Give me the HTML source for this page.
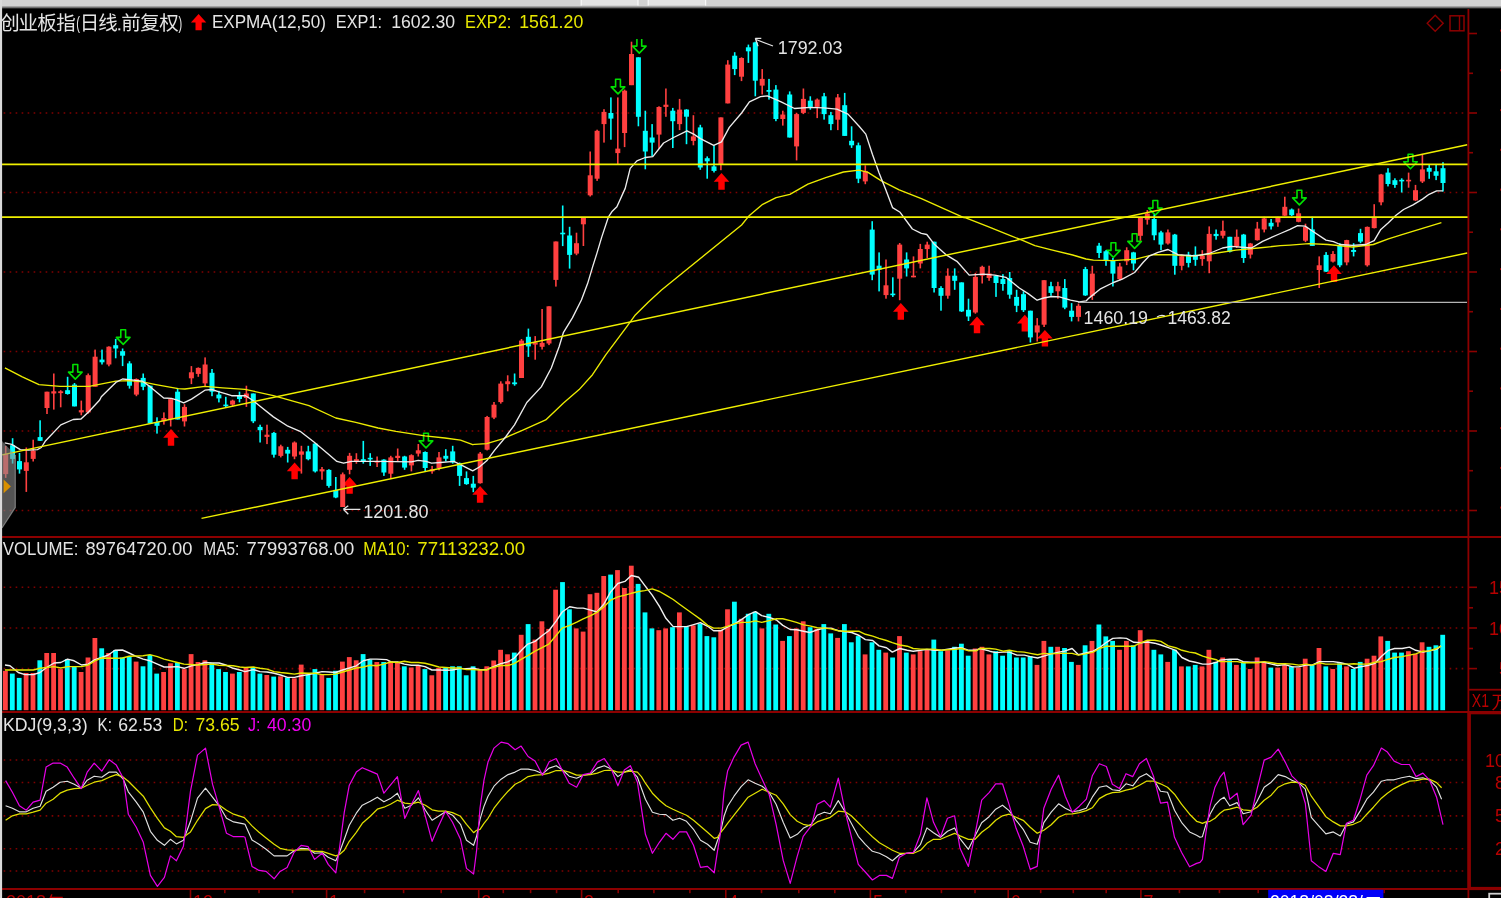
<!DOCTYPE html>
<html><head><meta charset="utf-8"><title>chart</title>
<style>html,body{margin:0;padding:0;background:#000;overflow:hidden}svg{display:block;will-change:transform}</style></head>
<body>
<svg width="1501" height="898" viewBox="0 0 1501 898" font-family="Liberation Sans, sans-serif">
<defs><linearGradient id="tg" x1="0" y1="0" x2="0" y2="1"><stop offset="0" stop-color="#d2d2d2"/><stop offset="1" stop-color="#000"/></linearGradient><clipPath id="cpm"><rect x="2" y="9" width="1466" height="527"/></clipPath><clipPath id="cpa"><rect x="2" y="39" width="1466" height="497"/></clipPath></defs>
<rect width="1501" height="898" fill="#000"/>
<line x1="3.65" y1="113.0" x2="1464" y2="113.0" stroke="#800000" stroke-width="1.6" stroke-dasharray="1.6 4.4"/>
<line x1="3.65" y1="192.5" x2="1464" y2="192.5" stroke="#800000" stroke-width="1.6" stroke-dasharray="1.6 4.4"/>
<line x1="3.65" y1="272.0" x2="1464" y2="272.0" stroke="#800000" stroke-width="1.6" stroke-dasharray="1.6 4.4"/>
<line x1="3.65" y1="351.5" x2="1464" y2="351.5" stroke="#800000" stroke-width="1.6" stroke-dasharray="1.6 4.4"/>
<line x1="3.65" y1="431.0" x2="1464" y2="431.0" stroke="#800000" stroke-width="1.6" stroke-dasharray="1.6 4.4"/>
<line x1="3.65" y1="510.5" x2="1464" y2="510.5" stroke="#800000" stroke-width="1.6" stroke-dasharray="1.6 4.4"/>
<line x1="3.65" y1="587.3" x2="1464" y2="587.3" stroke="#800000" stroke-width="1.6" stroke-dasharray="1.6 4.4"/>
<line x1="3.65" y1="628.0" x2="1464" y2="628.0" stroke="#800000" stroke-width="1.6" stroke-dasharray="1.6 4.4"/>
<line x1="3.65" y1="668.6" x2="1464" y2="668.6" stroke="#800000" stroke-width="1.6" stroke-dasharray="1.6 4.4"/>
<line x1="3.65" y1="760.0" x2="1464" y2="760.0" stroke="#800000" stroke-width="1.6" stroke-dasharray="1.6 4.4"/>
<line x1="3.65" y1="782.5" x2="1464" y2="782.5" stroke="#800000" stroke-width="1.6" stroke-dasharray="1.6 4.4"/>
<line x1="3.65" y1="815.9" x2="1464" y2="815.9" stroke="#800000" stroke-width="1.6" stroke-dasharray="1.6 4.4"/>
<line x1="3.65" y1="848.7" x2="1464" y2="848.7" stroke="#800000" stroke-width="1.6" stroke-dasharray="1.6 4.4"/>
<line x1="3.65" y1="871.0" x2="1464" y2="871.0" stroke="#800000" stroke-width="1.6" stroke-dasharray="1.6 4.4"/>
<path d="M171,429 l7.8,8.7 h-4.6 v8 h-6.4 v-8 h-4.6 z" fill="#ff0000"/>
<path d="M294.6,462.5 l7.8,8.7 h-4.6 v8 h-6.4 v-8 h-4.6 z" fill="#ff0000"/>
<path d="M349.6,477 l7.8,8.7 h-4.6 v8 h-6.4 v-8 h-4.6 z" fill="#ff0000"/>
<path d="M480.1,486 l7.8,8.7 h-4.6 v8 h-6.4 v-8 h-4.6 z" fill="#ff0000"/>
<path d="M721.5,173.1 l7.8,8.7 h-4.6 v8 h-6.4 v-8 h-4.6 z" fill="#ff0000"/>
<path d="M900.8,303.1 l7.8,8.7 h-4.6 v8 h-6.4 v-8 h-4.6 z" fill="#ff0000"/>
<path d="M977,316.5 l7.8,8.7 h-4.6 v8 h-6.4 v-8 h-4.6 z" fill="#ff0000"/>
<path d="M1024.8,314.7 l7.8,8.7 h-4.6 v8 h-6.4 v-8 h-4.6 z" fill="#ff0000"/>
<path d="M1044.9,329.9 l7.8,8.7 h-4.6 v8 h-6.4 v-8 h-4.6 z" fill="#ff0000"/>
<path d="M1334,265.3 l7.8,8.7 h-4.6 v8 h-6.4 v-8 h-4.6 z" fill="#ff0000"/>
<path d="M75.3,379.09999999999997 l-6.8,-7 h4.4 v-7.6 h4.8 v7.6 h4.4 z" fill="none" stroke="#00e000" stroke-width="1.6" stroke-linejoin="round"/>
<path d="M123.2,344.4 l-6.8,-7 h4.4 v-7.6 h4.8 v7.6 h4.4 z" fill="none" stroke="#00e000" stroke-width="1.6" stroke-linejoin="round"/>
<path d="M426,447.9 l-6.8,-7 h4.4 v-7.6 h4.8 v7.6 h4.4 z" fill="none" stroke="#00e000" stroke-width="1.6" stroke-linejoin="round"/>
<path d="M618,93.9 l-6.8,-7 h4.4 v-7.6 h4.8 v7.6 h4.4 z" fill="none" stroke="#00e000" stroke-width="1.6" stroke-linejoin="round"/>
<path d="M636.9,38.9 v7.2 h-4.4 L639.3,53.1 l6.8,-7 h-4.4 v-7.2" fill="none" stroke="#00e000" stroke-width="1.6" stroke-linejoin="round"/>
<path d="M1113.4,257.4 l-6.8,-7 h4.4 v-7.6 h4.8 v7.6 h4.4 z" fill="none" stroke="#00e000" stroke-width="1.6" stroke-linejoin="round"/>
<path d="M1134.6,248.4 l-6.8,-7 h4.4 v-7.6 h4.8 v7.6 h4.4 z" fill="none" stroke="#00e000" stroke-width="1.6" stroke-linejoin="round"/>
<path d="M1155.3,215.1 l-6.8,-7 h4.4 v-7.6 h4.8 v7.6 h4.4 z" fill="none" stroke="#00e000" stroke-width="1.6" stroke-linejoin="round"/>
<path d="M1299.4,204.9 l-6.8,-7 h4.4 v-7.6 h4.8 v7.6 h4.4 z" fill="none" stroke="#00e000" stroke-width="1.6" stroke-linejoin="round"/>
<path d="M1410.5,168.8 l-6.8,-7 h4.4 v-7.6 h4.8 v7.6 h4.4 z" fill="none" stroke="#00e000" stroke-width="1.6" stroke-linejoin="round"/>
<rect x="4.9" y="446.0" width="1.6" height="31.9" fill="#ff4040"/>
<rect x="3.2" y="453.8" width="5" height="20.3" fill="#ff4040"/>
<rect x="11.8" y="438.2" width="1.6" height="25.4" fill="#00ffff"/>
<rect x="10.1" y="445.2" width="5" height="13.7" fill="#00ffff"/>
<rect x="18.7" y="453.0" width="1.6" height="20.6" fill="#00ffff"/>
<rect x="17.0" y="461.1" width="5" height="8.3" fill="#00ffff"/>
<rect x="25.5" y="447.5" width="1.6" height="44.4" fill="#ff4040"/>
<rect x="23.8" y="462.3" width="5" height="8.6" fill="#ff4040"/>
<rect x="32.4" y="439.7" width="1.6" height="21.8" fill="#ff4040"/>
<rect x="30.7" y="450.6" width="5" height="8.3" fill="#ff4040"/>
<rect x="39.3" y="420.3" width="1.6" height="20.6" fill="#00ffff"/>
<rect x="37.6" y="437.1" width="5" height="3.7" fill="#00ffff"/>
<rect x="46.2" y="391.7" width="1.6" height="22.3" fill="#ff4040"/>
<rect x="44.5" y="391.7" width="5" height="16.3" fill="#ff4040"/>
<rect x="53.0" y="373.5" width="1.6" height="36.1" fill="#ff4040"/>
<rect x="51.3" y="391.3" width="5" height="2.2" fill="#ff4040"/>
<rect x="59.9" y="390.2" width="1.6" height="17.1" fill="#ff4040"/>
<rect x="58.2" y="391.3" width="5" height="1.8" fill="#ff4040"/>
<rect x="66.8" y="376.8" width="1.6" height="17.8" fill="#00ffff"/>
<rect x="65.1" y="390.2" width="5" height="3.8" fill="#00ffff"/>
<rect x="73.7" y="383.0" width="1.6" height="23.4" fill="#00ffff"/>
<rect x="72.0" y="384.6" width="5" height="21.8" fill="#00ffff"/>
<rect x="80.5" y="400.6" width="1.6" height="14.7" fill="#ff4040"/>
<rect x="78.8" y="410.2" width="5" height="2.2" fill="#ff4040"/>
<rect x="87.4" y="373.5" width="1.6" height="40.1" fill="#ff4040"/>
<rect x="85.7" y="375.2" width="5" height="37.2" fill="#ff4040"/>
<rect x="94.3" y="349.6" width="1.6" height="37.2" fill="#ff4040"/>
<rect x="92.6" y="356.7" width="5" height="30.1" fill="#ff4040"/>
<rect x="101.2" y="349.6" width="1.6" height="14.9" fill="#00ffff"/>
<rect x="99.5" y="359.6" width="5" height="2.7" fill="#00ffff"/>
<rect x="108.1" y="346.3" width="1.6" height="20.0" fill="#ff4040"/>
<rect x="106.4" y="346.7" width="5" height="17.8" fill="#ff4040"/>
<rect x="114.9" y="338.9" width="1.6" height="19.4" fill="#00ffff"/>
<rect x="113.2" y="345.2" width="5" height="3.3" fill="#00ffff"/>
<rect x="121.8" y="348.5" width="1.6" height="17.6" fill="#00ffff"/>
<rect x="120.1" y="351.2" width="5" height="4.5" fill="#00ffff"/>
<rect x="128.7" y="361.2" width="1.6" height="27.4" fill="#00ffff"/>
<rect x="127.0" y="363.4" width="5" height="22.3" fill="#00ffff"/>
<rect x="135.6" y="378.4" width="1.6" height="17.8" fill="#ff4040"/>
<rect x="133.9" y="379.0" width="5" height="15.6" fill="#ff4040"/>
<rect x="142.4" y="373.5" width="1.6" height="16.7" fill="#00ffff"/>
<rect x="140.7" y="377.9" width="5" height="8.9" fill="#00ffff"/>
<rect x="149.3" y="385.7" width="1.6" height="37.9" fill="#00ffff"/>
<rect x="147.6" y="385.7" width="5" height="37.9" fill="#00ffff"/>
<rect x="156.2" y="417.3" width="1.6" height="16.3" fill="#00ffff"/>
<rect x="154.5" y="422.0" width="5" height="3.8" fill="#00ffff"/>
<rect x="163.1" y="412.4" width="1.6" height="12.2" fill="#ff4040"/>
<rect x="161.4" y="418.0" width="5" height="3.3" fill="#ff4040"/>
<rect x="169.9" y="398.0" width="1.6" height="28.5" fill="#ff4040"/>
<rect x="168.2" y="399.1" width="5" height="20.0" fill="#ff4040"/>
<rect x="176.8" y="389.0" width="1.6" height="30.5" fill="#00ffff"/>
<rect x="175.1" y="391.7" width="5" height="27.8" fill="#00ffff"/>
<rect x="183.7" y="404.2" width="1.6" height="22.3" fill="#ff4040"/>
<rect x="182.0" y="406.9" width="5" height="14.5" fill="#ff4040"/>
<rect x="190.6" y="366.1" width="1.6" height="18.0" fill="#ff4040"/>
<rect x="188.9" y="372.3" width="5" height="6.0" fill="#ff4040"/>
<rect x="197.5" y="367.4" width="1.6" height="9.4" fill="#ff4040"/>
<rect x="195.8" y="367.9" width="5" height="6.0" fill="#ff4040"/>
<rect x="204.3" y="357.4" width="1.6" height="29.4" fill="#ff4040"/>
<rect x="202.6" y="364.5" width="5" height="18.9" fill="#ff4040"/>
<rect x="211.2" y="369.0" width="1.6" height="27.2" fill="#00ffff"/>
<rect x="209.5" y="372.8" width="5" height="18.9" fill="#00ffff"/>
<rect x="218.1" y="390.8" width="1.6" height="11.6" fill="#00ffff"/>
<rect x="216.4" y="394.6" width="5" height="3.8" fill="#00ffff"/>
<rect x="225.0" y="396.8" width="1.6" height="11.1" fill="#00ffff"/>
<rect x="223.3" y="404.6" width="5" height="1.6" fill="#00ffff"/>
<rect x="231.8" y="399.7" width="1.6" height="7.1" fill="#ff4040"/>
<rect x="230.1" y="400.6" width="5" height="4.0" fill="#ff4040"/>
<rect x="238.7" y="391.7" width="1.6" height="10.7" fill="#00ffff"/>
<rect x="237.0" y="395.7" width="5" height="3.3" fill="#00ffff"/>
<rect x="245.6" y="385.7" width="1.6" height="21.2" fill="#ff4040"/>
<rect x="243.9" y="393.5" width="5" height="4.5" fill="#ff4040"/>
<rect x="252.5" y="393.5" width="1.6" height="29.6" fill="#00ffff"/>
<rect x="250.8" y="393.5" width="5" height="27.8" fill="#00ffff"/>
<rect x="259.3" y="424.7" width="1.6" height="17.8" fill="#00ffff"/>
<rect x="257.6" y="426.9" width="5" height="3.3" fill="#00ffff"/>
<rect x="266.2" y="424.7" width="1.6" height="19.4" fill="#ff4040"/>
<rect x="264.5" y="434.7" width="5" height="2.2" fill="#ff4040"/>
<rect x="273.1" y="432.0" width="1.6" height="25.6" fill="#00ffff"/>
<rect x="271.4" y="432.9" width="5" height="21.8" fill="#00ffff"/>
<rect x="280.0" y="444.7" width="1.6" height="12.7" fill="#ff4040"/>
<rect x="278.3" y="446.3" width="5" height="9.6" fill="#ff4040"/>
<rect x="286.9" y="446.9" width="1.6" height="15.6" fill="#00ffff"/>
<rect x="285.2" y="449.8" width="5" height="3.8" fill="#00ffff"/>
<rect x="293.7" y="441.4" width="1.6" height="17.8" fill="#ff4040"/>
<rect x="292.0" y="442.5" width="5" height="14.0" fill="#ff4040"/>
<rect x="300.6" y="445.8" width="1.6" height="27.8" fill="#ff4040"/>
<rect x="298.9" y="451.4" width="5" height="3.3" fill="#ff4040"/>
<rect x="307.5" y="445.8" width="1.6" height="14.5" fill="#00ffff"/>
<rect x="305.8" y="451.4" width="5" height="7.8" fill="#00ffff"/>
<rect x="314.4" y="443.1" width="1.6" height="29.4" fill="#00ffff"/>
<rect x="312.7" y="443.6" width="5" height="27.8" fill="#00ffff"/>
<rect x="321.2" y="467.0" width="1.6" height="12.7" fill="#ff4040"/>
<rect x="319.5" y="469.2" width="5" height="2.2" fill="#ff4040"/>
<rect x="328.1" y="469.2" width="1.6" height="18.5" fill="#00ffff"/>
<rect x="326.4" y="469.9" width="5" height="16.0" fill="#00ffff"/>
<rect x="335.0" y="477.0" width="1.6" height="21.2" fill="#00ffff"/>
<rect x="333.3" y="489.9" width="5" height="7.6" fill="#00ffff"/>
<rect x="341.9" y="472.5" width="1.6" height="34.5" fill="#ff4040"/>
<rect x="340.2" y="474.3" width="5" height="32.7" fill="#ff4040"/>
<rect x="348.8" y="452.9" width="1.6" height="21.4" fill="#ff4040"/>
<rect x="347.1" y="455.8" width="5" height="14.0" fill="#ff4040"/>
<rect x="355.6" y="453.2" width="1.6" height="10.5" fill="#ff4040"/>
<rect x="353.9" y="459.2" width="5" height="2.2" fill="#ff4040"/>
<rect x="362.5" y="440.9" width="1.6" height="22.7" fill="#00ffff"/>
<rect x="360.8" y="459.2" width="5" height="2.7" fill="#00ffff"/>
<rect x="369.4" y="453.2" width="1.6" height="12.7" fill="#00ffff"/>
<rect x="367.7" y="457.8" width="5" height="1.6" fill="#00ffff"/>
<rect x="376.3" y="456.5" width="1.6" height="10.5" fill="#ff4040"/>
<rect x="374.6" y="461.0" width="5" height="1.6" fill="#ff4040"/>
<rect x="383.1" y="459.2" width="1.6" height="16.7" fill="#00ffff"/>
<rect x="381.4" y="459.6" width="5" height="12.9" fill="#00ffff"/>
<rect x="390.0" y="455.8" width="1.6" height="22.9" fill="#ff4040"/>
<rect x="388.3" y="457.4" width="5" height="16.3" fill="#ff4040"/>
<rect x="396.9" y="448.5" width="1.6" height="12.9" fill="#ff4040"/>
<rect x="395.2" y="455.8" width="5" height="2.2" fill="#ff4040"/>
<rect x="403.8" y="455.8" width="1.6" height="14.0" fill="#00ffff"/>
<rect x="402.1" y="456.5" width="5" height="11.1" fill="#00ffff"/>
<rect x="410.6" y="454.3" width="1.6" height="17.1" fill="#ff4040"/>
<rect x="408.9" y="455.2" width="5" height="10.2" fill="#ff4040"/>
<rect x="417.5" y="444.0" width="1.6" height="12.5" fill="#ff4040"/>
<rect x="415.8" y="450.3" width="5" height="3.3" fill="#ff4040"/>
<rect x="424.4" y="451.4" width="1.6" height="20.0" fill="#00ffff"/>
<rect x="422.7" y="452.0" width="5" height="16.0" fill="#00ffff"/>
<rect x="431.3" y="465.9" width="1.6" height="7.8" fill="#ff4040"/>
<rect x="429.6" y="469.2" width="5" height="2.2" fill="#ff4040"/>
<rect x="438.2" y="452.0" width="1.6" height="18.3" fill="#ff4040"/>
<rect x="436.5" y="457.4" width="5" height="10.7" fill="#ff4040"/>
<rect x="445.0" y="449.2" width="1.6" height="12.2" fill="#00ffff"/>
<rect x="443.3" y="455.8" width="5" height="2.9" fill="#00ffff"/>
<rect x="451.9" y="445.8" width="1.6" height="17.8" fill="#00ffff"/>
<rect x="450.2" y="451.4" width="5" height="11.1" fill="#00ffff"/>
<rect x="458.8" y="462.5" width="1.6" height="23.4" fill="#00ffff"/>
<rect x="457.1" y="463.2" width="5" height="12.7" fill="#00ffff"/>
<rect x="465.7" y="471.4" width="1.6" height="13.4" fill="#00ffff"/>
<rect x="464.0" y="478.1" width="5" height="6.0" fill="#00ffff"/>
<rect x="472.5" y="475.9" width="1.6" height="16.3" fill="#00ffff"/>
<rect x="470.8" y="483.7" width="5" height="4.0" fill="#00ffff"/>
<rect x="479.4" y="452.0" width="1.6" height="31.6" fill="#ff4040"/>
<rect x="477.7" y="453.6" width="5" height="29.6" fill="#ff4040"/>
<rect x="486.3" y="415.9" width="1.6" height="34.5" fill="#ff4040"/>
<rect x="484.6" y="417.0" width="5" height="32.7" fill="#ff4040"/>
<rect x="493.2" y="402.0" width="1.6" height="17.1" fill="#ff4040"/>
<rect x="491.5" y="404.7" width="5" height="12.9" fill="#ff4040"/>
<rect x="500.0" y="381.3" width="1.6" height="22.3" fill="#ff4040"/>
<rect x="498.3" y="383.6" width="5" height="18.5" fill="#ff4040"/>
<rect x="506.9" y="375.3" width="1.6" height="16.0" fill="#ff4040"/>
<rect x="505.2" y="381.3" width="5" height="2.9" fill="#ff4040"/>
<rect x="513.8" y="373.5" width="1.6" height="12.2" fill="#00ffff"/>
<rect x="512.1" y="382.4" width="5" height="1.8" fill="#00ffff"/>
<rect x="520.7" y="339.0" width="1.6" height="39.0" fill="#ff4040"/>
<rect x="519.0" y="340.6" width="5" height="37.4" fill="#ff4040"/>
<rect x="527.6" y="328.6" width="1.6" height="28.3" fill="#00ffff"/>
<rect x="525.9" y="336.8" width="5" height="9.6" fill="#00ffff"/>
<rect x="534.4" y="336.1" width="1.6" height="23.6" fill="#ff4040"/>
<rect x="532.7" y="342.4" width="5" height="2.2" fill="#ff4040"/>
<rect x="541.3" y="309.0" width="1.6" height="40.5" fill="#ff4040"/>
<rect x="539.6" y="342.8" width="5" height="4.0" fill="#ff4040"/>
<rect x="548.2" y="306.3" width="1.6" height="38.8" fill="#ff4040"/>
<rect x="546.5" y="306.3" width="5" height="37.2" fill="#ff4040"/>
<rect x="555.1" y="241.5" width="1.6" height="45.1" fill="#ff4040"/>
<rect x="553.4" y="241.5" width="5" height="38.4" fill="#ff4040"/>
<rect x="561.9" y="205.5" width="1.6" height="40.6" fill="#00ffff"/>
<rect x="560.2" y="232.7" width="5" height="1.6" fill="#00ffff"/>
<rect x="568.8" y="226.8" width="1.6" height="41.8" fill="#00ffff"/>
<rect x="567.1" y="235.5" width="5" height="19.4" fill="#00ffff"/>
<rect x="575.7" y="232.7" width="1.6" height="22.5" fill="#ff4040"/>
<rect x="574.0" y="243.2" width="5" height="10.4" fill="#ff4040"/>
<rect x="582.6" y="217.6" width="1.6" height="28.4" fill="#ff4040"/>
<rect x="580.9" y="217.6" width="5" height="6.7" fill="#ff4040"/>
<rect x="589.4" y="151.5" width="1.6" height="45.0" fill="#ff4040"/>
<rect x="587.7" y="175.3" width="5" height="20.0" fill="#ff4040"/>
<rect x="596.3" y="129.7" width="1.6" height="51.2" fill="#ff4040"/>
<rect x="594.6" y="130.8" width="5" height="47.9" fill="#ff4040"/>
<rect x="603.2" y="109.2" width="1.6" height="33.4" fill="#ff4040"/>
<rect x="601.5" y="111.9" width="5" height="12.2" fill="#ff4040"/>
<rect x="610.1" y="97.4" width="1.6" height="42.3" fill="#00ffff"/>
<rect x="608.4" y="113.0" width="5" height="5.6" fill="#00ffff"/>
<rect x="617.0" y="97.4" width="1.6" height="66.8" fill="#ff4040"/>
<rect x="615.3" y="148.6" width="5" height="4.5" fill="#ff4040"/>
<rect x="623.8" y="89.6" width="1.6" height="57.5" fill="#ff4040"/>
<rect x="622.1" y="90.7" width="5" height="42.3" fill="#ff4040"/>
<rect x="630.7" y="41.7" width="1.6" height="43.4" fill="#ff4040"/>
<rect x="629.0" y="54.0" width="5" height="31.2" fill="#ff4040"/>
<rect x="637.6" y="57.3" width="1.6" height="69.0" fill="#00ffff"/>
<rect x="635.9" y="57.3" width="5" height="59.5" fill="#00ffff"/>
<rect x="644.5" y="110.7" width="1.6" height="58.6" fill="#00ffff"/>
<rect x="642.8" y="130.8" width="5" height="20.7" fill="#00ffff"/>
<rect x="651.3" y="124.1" width="1.6" height="32.3" fill="#00ffff"/>
<rect x="649.6" y="137.5" width="5" height="5.1" fill="#00ffff"/>
<rect x="658.2" y="106.3" width="1.6" height="42.3" fill="#ff4040"/>
<rect x="656.5" y="107.0" width="5" height="27.6" fill="#ff4040"/>
<rect x="665.1" y="88.5" width="1.6" height="28.3" fill="#ff4040"/>
<rect x="663.4" y="104.7" width="5" height="2.2" fill="#ff4040"/>
<rect x="672.0" y="107.9" width="1.6" height="40.1" fill="#00ffff"/>
<rect x="670.3" y="110.7" width="5" height="10.5" fill="#00ffff"/>
<rect x="678.8" y="98.9" width="1.6" height="31.2" fill="#ff4040"/>
<rect x="677.1" y="109.6" width="5" height="14.5" fill="#ff4040"/>
<rect x="685.7" y="109.2" width="1.6" height="35.0" fill="#00ffff"/>
<rect x="684.0" y="109.6" width="5" height="7.1" fill="#00ffff"/>
<rect x="692.6" y="115.2" width="1.6" height="30.1" fill="#ff4040"/>
<rect x="690.9" y="136.4" width="5" height="4.5" fill="#ff4040"/>
<rect x="699.5" y="124.8" width="1.6" height="45.0" fill="#00ffff"/>
<rect x="697.8" y="127.4" width="5" height="40.1" fill="#00ffff"/>
<rect x="706.4" y="156.4" width="1.6" height="22.3" fill="#00ffff"/>
<rect x="704.7" y="158.2" width="5" height="3.1" fill="#00ffff"/>
<rect x="713.2" y="145.3" width="1.6" height="27.2" fill="#00ffff"/>
<rect x="711.5" y="166.4" width="5" height="4.5" fill="#00ffff"/>
<rect x="720.1" y="117.4" width="1.6" height="52.8" fill="#ff4040"/>
<rect x="718.4" y="117.4" width="5" height="46.8" fill="#ff4040"/>
<rect x="727.0" y="60.2" width="1.6" height="43.2" fill="#ff4040"/>
<rect x="725.3" y="64.6" width="5" height="38.8" fill="#ff4040"/>
<rect x="733.9" y="52.2" width="1.6" height="22.9" fill="#00ffff"/>
<rect x="732.2" y="55.7" width="5" height="13.4" fill="#00ffff"/>
<rect x="740.7" y="57.3" width="1.6" height="23.8" fill="#ff4040"/>
<rect x="739.0" y="58.0" width="5" height="18.7" fill="#ff4040"/>
<rect x="747.6" y="44.6" width="1.6" height="18.3" fill="#00ffff"/>
<rect x="745.9" y="47.3" width="5" height="4.0" fill="#00ffff"/>
<rect x="754.5" y="41.7" width="1.6" height="54.6" fill="#00ffff"/>
<rect x="752.8" y="42.4" width="5" height="38.3" fill="#00ffff"/>
<rect x="761.4" y="69.1" width="1.6" height="25.4" fill="#ff4040"/>
<rect x="759.7" y="78.9" width="5" height="6.7" fill="#ff4040"/>
<rect x="768.2" y="78.9" width="1.6" height="20.7" fill="#00ffff"/>
<rect x="766.5" y="90.0" width="5" height="1.8" fill="#00ffff"/>
<rect x="775.1" y="85.1" width="1.6" height="36.1" fill="#00ffff"/>
<rect x="773.4" y="89.6" width="5" height="29.4" fill="#00ffff"/>
<rect x="782.0" y="110.7" width="1.6" height="14.9" fill="#ff4040"/>
<rect x="780.3" y="114.5" width="5" height="4.5" fill="#ff4040"/>
<rect x="788.9" y="91.4" width="1.6" height="46.1" fill="#00ffff"/>
<rect x="787.2" y="94.5" width="5" height="43.0" fill="#00ffff"/>
<rect x="795.8" y="113.0" width="1.6" height="47.4" fill="#ff4040"/>
<rect x="794.1" y="114.1" width="5" height="32.3" fill="#ff4040"/>
<rect x="802.6" y="88.5" width="1.6" height="25.6" fill="#ff4040"/>
<rect x="800.9" y="98.9" width="5" height="14.0" fill="#ff4040"/>
<rect x="809.5" y="96.3" width="1.6" height="13.4" fill="#00ffff"/>
<rect x="807.8" y="100.7" width="5" height="6.2" fill="#00ffff"/>
<rect x="816.4" y="98.5" width="1.6" height="19.6" fill="#ff4040"/>
<rect x="814.7" y="99.6" width="5" height="7.3" fill="#ff4040"/>
<rect x="823.3" y="92.9" width="1.6" height="26.7" fill="#00ffff"/>
<rect x="821.6" y="96.3" width="5" height="17.8" fill="#00ffff"/>
<rect x="830.1" y="111.9" width="1.6" height="18.3" fill="#00ffff"/>
<rect x="828.4" y="115.2" width="5" height="8.9" fill="#00ffff"/>
<rect x="837.0" y="94.0" width="1.6" height="36.1" fill="#ff4040"/>
<rect x="835.3" y="97.4" width="5" height="22.3" fill="#ff4040"/>
<rect x="843.9" y="92.9" width="1.6" height="43.0" fill="#00ffff"/>
<rect x="842.2" y="105.2" width="5" height="30.7" fill="#00ffff"/>
<rect x="850.8" y="126.3" width="1.6" height="21.6" fill="#00ffff"/>
<rect x="849.1" y="140.8" width="5" height="4.5" fill="#00ffff"/>
<rect x="857.6" y="142.6" width="1.6" height="40.5" fill="#00ffff"/>
<rect x="855.9" y="145.3" width="5" height="33.4" fill="#00ffff"/>
<rect x="864.5" y="165.3" width="1.6" height="18.9" fill="#ff4040"/>
<rect x="862.8" y="170.9" width="5" height="10.5" fill="#ff4040"/>
<rect x="871.4" y="221.2" width="1.6" height="59.0" fill="#00ffff"/>
<rect x="869.7" y="229.6" width="5" height="45.0" fill="#00ffff"/>
<rect x="878.3" y="252.4" width="1.6" height="39.0" fill="#00ffff"/>
<rect x="876.6" y="265.7" width="5" height="4.0" fill="#00ffff"/>
<rect x="885.2" y="259.5" width="1.6" height="39.2" fill="#ff4040"/>
<rect x="883.5" y="285.3" width="5" height="9.8" fill="#ff4040"/>
<rect x="892.0" y="277.3" width="1.6" height="19.6" fill="#00ffff"/>
<rect x="890.3" y="293.6" width="5" height="1.6" fill="#00ffff"/>
<rect x="898.9" y="243.0" width="1.6" height="57.2" fill="#ff4040"/>
<rect x="897.2" y="244.6" width="5" height="34.1" fill="#ff4040"/>
<rect x="905.8" y="252.4" width="1.6" height="24.1" fill="#00ffff"/>
<rect x="904.1" y="259.5" width="5" height="8.9" fill="#00ffff"/>
<rect x="912.7" y="256.4" width="1.6" height="20.9" fill="#ff4040"/>
<rect x="911.0" y="275.7" width="5" height="1.6" fill="#ff4040"/>
<rect x="919.5" y="243.9" width="1.6" height="24.5" fill="#ff4040"/>
<rect x="917.8" y="249.0" width="5" height="14.5" fill="#ff4040"/>
<rect x="926.4" y="241.7" width="1.6" height="16.3" fill="#ff4040"/>
<rect x="924.7" y="244.6" width="5" height="4.5" fill="#ff4040"/>
<rect x="933.3" y="241.7" width="1.6" height="50.8" fill="#00ffff"/>
<rect x="931.6" y="241.7" width="5" height="46.3" fill="#00ffff"/>
<rect x="940.2" y="286.2" width="1.6" height="24.5" fill="#00ffff"/>
<rect x="938.5" y="288.0" width="5" height="7.8" fill="#00ffff"/>
<rect x="947.0" y="268.4" width="1.6" height="30.3" fill="#ff4040"/>
<rect x="945.3" y="275.7" width="5" height="20.0" fill="#ff4040"/>
<rect x="953.9" y="268.4" width="1.6" height="21.4" fill="#00ffff"/>
<rect x="952.2" y="275.7" width="5" height="5.1" fill="#00ffff"/>
<rect x="960.8" y="282.4" width="1.6" height="29.6" fill="#00ffff"/>
<rect x="959.1" y="282.4" width="5" height="29.0" fill="#00ffff"/>
<rect x="967.7" y="298.7" width="1.6" height="22.3" fill="#00ffff"/>
<rect x="966.0" y="309.8" width="5" height="6.7" fill="#00ffff"/>
<rect x="974.6" y="272.9" width="1.6" height="40.8" fill="#ff4040"/>
<rect x="972.9" y="276.9" width="5" height="35.6" fill="#ff4040"/>
<rect x="981.4" y="265.7" width="1.6" height="17.8" fill="#ff4040"/>
<rect x="979.7" y="266.8" width="5" height="8.9" fill="#ff4040"/>
<rect x="988.3" y="265.7" width="1.6" height="15.1" fill="#ff4040"/>
<rect x="986.6" y="273.5" width="5" height="4.5" fill="#ff4040"/>
<rect x="995.2" y="275.7" width="1.6" height="21.2" fill="#00ffff"/>
<rect x="993.5" y="275.7" width="5" height="7.3" fill="#00ffff"/>
<rect x="1002.1" y="274.2" width="1.6" height="16.5" fill="#00ffff"/>
<rect x="1000.4" y="279.1" width="5" height="4.9" fill="#00ffff"/>
<rect x="1008.9" y="272.0" width="1.6" height="26.7" fill="#00ffff"/>
<rect x="1007.2" y="278.0" width="5" height="16.7" fill="#00ffff"/>
<rect x="1015.8" y="289.8" width="1.6" height="22.3" fill="#00ffff"/>
<rect x="1014.1" y="296.9" width="5" height="8.9" fill="#00ffff"/>
<rect x="1022.7" y="291.3" width="1.6" height="20.7" fill="#00ffff"/>
<rect x="1021.0" y="294.2" width="5" height="16.0" fill="#00ffff"/>
<rect x="1029.6" y="310.7" width="1.6" height="31.8" fill="#00ffff"/>
<rect x="1027.9" y="310.7" width="5" height="26.7" fill="#00ffff"/>
<rect x="1036.4" y="318.1" width="1.6" height="23.4" fill="#ff4040"/>
<rect x="1034.7" y="325.4" width="5" height="7.1" fill="#ff4040"/>
<rect x="1043.3" y="280.2" width="1.6" height="46.8" fill="#ff4040"/>
<rect x="1041.6" y="280.2" width="5" height="44.5" fill="#ff4040"/>
<rect x="1050.2" y="281.8" width="1.6" height="14.0" fill="#00ffff"/>
<rect x="1048.5" y="286.2" width="5" height="6.7" fill="#00ffff"/>
<rect x="1057.1" y="281.8" width="1.6" height="16.9" fill="#ff4040"/>
<rect x="1055.4" y="286.2" width="5" height="5.1" fill="#ff4040"/>
<rect x="1064.0" y="279.1" width="1.6" height="30.1" fill="#00ffff"/>
<rect x="1062.3" y="288.0" width="5" height="19.6" fill="#00ffff"/>
<rect x="1070.8" y="303.1" width="1.6" height="18.3" fill="#00ffff"/>
<rect x="1069.1" y="310.7" width="5" height="6.2" fill="#00ffff"/>
<rect x="1077.7" y="303.6" width="1.6" height="17.8" fill="#ff4040"/>
<rect x="1076.0" y="305.8" width="5" height="11.1" fill="#ff4040"/>
<rect x="1084.6" y="266.9" width="1.6" height="29.0" fill="#00ffff"/>
<rect x="1082.9" y="269.1" width="5" height="26.3" fill="#00ffff"/>
<rect x="1091.5" y="265.8" width="1.6" height="34.1" fill="#ff4040"/>
<rect x="1089.8" y="273.6" width="5" height="22.3" fill="#ff4040"/>
<rect x="1098.3" y="242.9" width="1.6" height="15.1" fill="#00ffff"/>
<rect x="1096.6" y="245.7" width="5" height="7.3" fill="#00ffff"/>
<rect x="1105.2" y="250.2" width="1.6" height="15.6" fill="#00ffff"/>
<rect x="1103.5" y="251.3" width="5" height="8.9" fill="#00ffff"/>
<rect x="1112.1" y="258.0" width="1.6" height="28.5" fill="#00ffff"/>
<rect x="1110.4" y="260.2" width="5" height="13.4" fill="#00ffff"/>
<rect x="1119.0" y="262.9" width="1.6" height="17.4" fill="#ff4040"/>
<rect x="1117.3" y="266.5" width="5" height="12.7" fill="#ff4040"/>
<rect x="1125.9" y="247.3" width="1.6" height="17.8" fill="#ff4040"/>
<rect x="1124.2" y="250.2" width="5" height="11.1" fill="#ff4040"/>
<rect x="1132.7" y="251.8" width="1.6" height="18.5" fill="#00ffff"/>
<rect x="1131.0" y="252.4" width="5" height="11.1" fill="#00ffff"/>
<rect x="1139.6" y="216.8" width="1.6" height="23.8" fill="#ff4040"/>
<rect x="1137.9" y="217.5" width="5" height="18.3" fill="#ff4040"/>
<rect x="1146.5" y="210.1" width="1.6" height="14.5" fill="#ff4040"/>
<rect x="1144.8" y="213.5" width="5" height="6.2" fill="#ff4040"/>
<rect x="1153.4" y="214.6" width="1.6" height="25.6" fill="#00ffff"/>
<rect x="1151.7" y="219.0" width="5" height="16.3" fill="#00ffff"/>
<rect x="1160.2" y="230.8" width="1.6" height="19.4" fill="#00ffff"/>
<rect x="1158.5" y="232.4" width="5" height="12.2" fill="#00ffff"/>
<rect x="1167.1" y="229.5" width="1.6" height="15.1" fill="#ff4040"/>
<rect x="1165.4" y="232.4" width="5" height="11.1" fill="#ff4040"/>
<rect x="1174.0" y="233.9" width="1.6" height="40.8" fill="#00ffff"/>
<rect x="1172.3" y="234.6" width="5" height="31.2" fill="#00ffff"/>
<rect x="1180.9" y="254.7" width="1.6" height="15.6" fill="#ff4040"/>
<rect x="1179.2" y="256.2" width="5" height="9.6" fill="#ff4040"/>
<rect x="1187.7" y="251.8" width="1.6" height="15.6" fill="#00ffff"/>
<rect x="1186.0" y="254.7" width="5" height="8.2" fill="#00ffff"/>
<rect x="1194.6" y="246.4" width="1.6" height="19.4" fill="#00ffff"/>
<rect x="1192.9" y="254.7" width="5" height="5.1" fill="#00ffff"/>
<rect x="1201.5" y="250.2" width="1.6" height="15.6" fill="#ff4040"/>
<rect x="1199.8" y="255.8" width="5" height="3.3" fill="#ff4040"/>
<rect x="1208.4" y="226.4" width="1.6" height="46.8" fill="#ff4040"/>
<rect x="1206.7" y="233.9" width="5" height="27.4" fill="#ff4040"/>
<rect x="1215.3" y="229.5" width="1.6" height="10.2" fill="#00ffff"/>
<rect x="1213.6" y="233.9" width="5" height="2.2" fill="#00ffff"/>
<rect x="1222.1" y="220.6" width="1.6" height="17.8" fill="#ff4040"/>
<rect x="1220.4" y="230.8" width="5" height="4.9" fill="#ff4040"/>
<rect x="1229.0" y="236.8" width="1.6" height="15.6" fill="#00ffff"/>
<rect x="1227.3" y="236.8" width="5" height="14.9" fill="#00ffff"/>
<rect x="1235.9" y="229.5" width="1.6" height="18.5" fill="#ff4040"/>
<rect x="1234.2" y="236.8" width="5" height="9.6" fill="#ff4040"/>
<rect x="1242.8" y="233.9" width="1.6" height="29.0" fill="#00ffff"/>
<rect x="1241.1" y="234.6" width="5" height="23.4" fill="#00ffff"/>
<rect x="1249.6" y="242.9" width="1.6" height="15.6" fill="#ff4040"/>
<rect x="1247.9" y="243.5" width="5" height="11.1" fill="#ff4040"/>
<rect x="1256.5" y="221.9" width="1.6" height="18.7" fill="#ff4040"/>
<rect x="1254.8" y="228.6" width="5" height="11.6" fill="#ff4040"/>
<rect x="1263.4" y="216.8" width="1.6" height="15.6" fill="#ff4040"/>
<rect x="1261.7" y="218.4" width="5" height="11.1" fill="#ff4040"/>
<rect x="1270.3" y="219.0" width="1.6" height="10.5" fill="#00ffff"/>
<rect x="1268.6" y="222.8" width="5" height="3.6" fill="#00ffff"/>
<rect x="1277.1" y="216.8" width="1.6" height="10.0" fill="#ff4040"/>
<rect x="1275.4" y="217.5" width="5" height="4.9" fill="#ff4040"/>
<rect x="1284.0" y="196.7" width="1.6" height="19.4" fill="#ff4040"/>
<rect x="1282.3" y="206.8" width="5" height="8.9" fill="#ff4040"/>
<rect x="1290.9" y="208.5" width="1.6" height="7.6" fill="#00ffff"/>
<rect x="1289.2" y="209.5" width="5" height="5.7" fill="#00ffff"/>
<rect x="1297.8" y="208.5" width="1.6" height="13.8" fill="#ff4040"/>
<rect x="1296.1" y="213.3" width="5" height="8.5" fill="#ff4040"/>
<rect x="1304.7" y="223.7" width="1.6" height="18.4" fill="#ff4040"/>
<rect x="1303.0" y="226.9" width="5" height="13.8" fill="#ff4040"/>
<rect x="1311.5" y="216.7" width="1.6" height="29.1" fill="#00ffff"/>
<rect x="1309.8" y="229.4" width="5" height="16.5" fill="#00ffff"/>
<rect x="1318.4" y="256.4" width="1.6" height="31.6" fill="#ff4040"/>
<rect x="1316.7" y="265.3" width="5" height="4.7" fill="#ff4040"/>
<rect x="1325.3" y="252.1" width="1.6" height="19.9" fill="#00ffff"/>
<rect x="1323.6" y="254.9" width="5" height="16.7" fill="#00ffff"/>
<rect x="1332.2" y="251.1" width="1.6" height="11.4" fill="#ff4040"/>
<rect x="1330.5" y="254.0" width="5" height="7.6" fill="#ff4040"/>
<rect x="1339.0" y="243.2" width="1.6" height="24.0" fill="#00ffff"/>
<rect x="1337.3" y="245.8" width="5" height="19.5" fill="#00ffff"/>
<rect x="1345.9" y="239.8" width="1.6" height="25.5" fill="#ff4040"/>
<rect x="1344.2" y="240.1" width="5" height="22.3" fill="#ff4040"/>
<rect x="1352.8" y="243.2" width="1.6" height="13.2" fill="#00ffff"/>
<rect x="1351.1" y="250.0" width="5" height="1.9" fill="#00ffff"/>
<rect x="1359.7" y="228.8" width="1.6" height="14.4" fill="#00ffff"/>
<rect x="1358.0" y="233.1" width="5" height="8.5" fill="#00ffff"/>
<rect x="1366.5" y="226.5" width="1.6" height="40.1" fill="#ff4040"/>
<rect x="1364.8" y="226.9" width="5" height="38.4" fill="#ff4040"/>
<rect x="1373.4" y="204.2" width="1.6" height="24.2" fill="#ff4040"/>
<rect x="1371.7" y="216.7" width="5" height="11.4" fill="#ff4040"/>
<rect x="1380.3" y="173.9" width="1.6" height="31.4" fill="#ff4040"/>
<rect x="1378.6" y="174.5" width="5" height="27.8" fill="#ff4040"/>
<rect x="1387.2" y="168.2" width="1.6" height="18.2" fill="#00ffff"/>
<rect x="1385.5" y="172.6" width="5" height="11.4" fill="#00ffff"/>
<rect x="1394.1" y="178.3" width="1.6" height="9.5" fill="#00ffff"/>
<rect x="1392.4" y="180.2" width="5" height="4.7" fill="#00ffff"/>
<rect x="1400.9" y="178.3" width="1.6" height="14.2" fill="#00ffff"/>
<rect x="1399.2" y="179.8" width="5" height="1.6" fill="#00ffff"/>
<rect x="1407.8" y="172.6" width="1.6" height="15.1" fill="#ff4040"/>
<rect x="1406.1" y="179.8" width="5" height="1.6" fill="#ff4040"/>
<rect x="1414.7" y="184.9" width="1.6" height="16.1" fill="#ff4040"/>
<rect x="1413.0" y="190.2" width="5" height="10.2" fill="#ff4040"/>
<rect x="1421.6" y="154.6" width="1.6" height="28.4" fill="#ff4040"/>
<rect x="1419.9" y="169.4" width="5" height="12.1" fill="#ff4040"/>
<rect x="1428.4" y="165.0" width="1.6" height="13.8" fill="#00ffff"/>
<rect x="1426.7" y="167.9" width="5" height="3.8" fill="#00ffff"/>
<rect x="1435.3" y="165.0" width="1.6" height="15.1" fill="#00ffff"/>
<rect x="1433.6" y="171.3" width="5" height="4.5" fill="#00ffff"/>
<rect x="1442.2" y="162.2" width="1.6" height="29.3" fill="#00ffff"/>
<rect x="1440.5" y="168.2" width="5" height="14.8" fill="#00ffff"/>
<polyline points="4.9,367.9 22.3,376.8 39.0,384.6 60.1,386.4 89.1,386.4 115.8,381.2 129.2,380.6 142.5,381.9 155.9,384.6 178.2,388.6 184.9,389.0 204.9,386.4 222.7,387.9 245.0,389.3 253.4,391.2 273.4,395.7 309.0,405.7 335.8,418.0 355.8,422.4 378.1,428.0 395.9,431.3 424.9,435.8 444.9,438.0 460.5,440.2 472.7,444.7 474.5,444.4 486.7,443.7 503.4,438.6 522.3,430.3 545.7,419.9 563.5,402.9 579.1,389.6 592.5,374.7 605.9,354.6 625.9,327.9 634.8,315.6 648.2,302.3 661.5,290.0 741.6,225.0 749.4,215.4 762.7,204.3 776.1,197.6 789.9,194.3 807.9,184.2 825.7,177.6 843.5,172.0 859.1,170.2 868.0,172.4 881.4,180.9 899.2,189.8 921.4,198.7 943.7,208.7 963.8,217.7 965.8,217.8 988.1,226.7 1010.4,235.7 1023.7,240.8 1034.9,245.7 1050.4,249.7 1072.7,255.0 1086.1,259.0 1093.4,260.2 1113.4,260.7 1135.7,259.1 1153.5,254.7 1169.1,254.7 1191.4,256.2 1213.6,253.5 1235.9,250.2 1258.2,248.0 1280.4,245.7 1290.0,245.1 1308.9,243.6 1327.9,244.5 1352.5,247.0 1373.3,244.5 1388.4,238.8 1403.6,234.1 1422.5,228.4 1441.4,222.7" fill="none" stroke="#ecec00" stroke-width="1.35" stroke-linejoin="round" />
<polyline points="4.7,442.9 11.7,444.4 20.3,449.6 28.1,450.2 37.4,449.6 41.3,447.5 45.2,441.3 60.8,424.9 73.2,419.5 81.0,419.0 88.8,411.7 99.7,400.0 101.3,396.8 115.8,382.4 122.5,379.0 129.2,379.7 142.5,381.2 149.7,386.4 163.7,398.0 171.5,398.4 177.1,400.2 183.7,402.9 191.5,399.1 204.9,390.2 211.6,389.5 218.3,391.7 226.1,393.9 231.6,395.7 239.4,395.7 245.6,395.7 253.4,400.8 260.7,406.8 273.4,416.9 287.9,426.2 300.1,431.3 314.6,442.5 329.1,454.7 336.9,461.4 343.6,463.2 351.4,461.4 378.1,461.4 411.5,461.8 418.2,460.3 426.0,461.4 431.5,463.2 440.4,462.5 453.8,461.4 460.5,464.7 472.7,470.8 479.4,467.0 486.7,460.8 494.5,450.4 505.6,437.0 514.5,424.8 526.8,402.5 541.3,386.9 551.3,368.0 559.1,346.8 563.5,332.3 572.4,317.9 581.4,300.0 587.6,283.6 592.6,266.9 596.8,253.6 601.8,236.9 608.5,216.8 611.8,211.8 616.9,206.8 625.2,188.4 630.2,168.4 636.9,160.9 645.2,157.5 652.8,156.7 663.6,143.0 673.6,137.5 687.0,130.8 693.7,134.1 700.4,138.6 713.7,145.3 721.5,141.9 729.3,127.4 741.6,113.0 749.4,101.8 760.5,96.7 767.2,95.8 776.1,99.6 781.1,101.8 794.5,108.5 810.1,107.4 823.5,107.9 836.8,109.2 848.0,114.1 859.1,126.3 865.8,134.1 872.4,154.2 879.1,173.1 885.8,189.8 892.5,207.6 900.1,212.3 912.4,229.0 921.3,233.4 926.8,234.5 934.6,244.6 945.8,254.6 956.9,261.3 969.2,275.1 983.6,274.2 994.8,275.1 1005.9,277.3 1019.3,288.0 1028.2,293.6 1037.1,300.2 1043.8,298.0 1051.6,296.5 1059.4,296.9 1070.5,300.2 1079.4,301.8 1086.1,300.9 1088.9,298.1 1100.0,289.2 1113.4,282.5 1122.3,279.2 1134.6,272.5 1143.5,262.0 1149.0,256.2 1158.0,252.4 1168.0,249.5 1178.0,254.7 1195.8,255.8 1209.2,253.5 1222.5,248.0 1231.4,246.4 1251.5,248.0 1262.6,241.3 1280.4,233.5 1290.0,229.4 1297.6,225.6 1305.1,226.1 1312.7,231.2 1326.0,240.1 1333.5,241.7 1340.2,244.5 1352.5,245.4 1365.7,244.5 1374.2,240.7 1380.8,229.4 1388.4,222.7 1396.0,215.2 1403.6,209.5 1413.0,204.8 1422.5,199.1 1429.1,194.3 1436.7,190.9 1442.9,190.9" fill="none" stroke="#ececec" stroke-width="1.35" stroke-linejoin="round" />
<line x1="2" y1="164.4" x2="1468" y2="164.4" stroke="#f0f000" stroke-width="1.75"/>
<line x1="2" y1="217" x2="1468" y2="217" stroke="#f0f000" stroke-width="1.75"/>
<line x1="2.2" y1="454.9" x2="1467.3" y2="144.8" stroke="#f0f000" stroke-width="1.45"/>
<line x1="201.5" y1="518.4" x2="1467.3" y2="253" stroke="#f0f000" stroke-width="1.45"/>
<line x1="1078" y1="302.4" x2="1467" y2="302.4" stroke="#b4b4b4" stroke-width="1.4"/>
<path d="M343.3,509.3 H360.4 M343.3,509.3 l5,-3.6 M343.3,509.3 l5,5" stroke="#e4e4e4" stroke-width="1.3" fill="none"/>
<text transform="translate(363.30,517.8) scale(1.0015,1)" font-size="18" fill="#e4e4e4" >1201.80</text>
<path d="M755.3,38.3 h6 M755.3,38.3 l2.8,8 M756,39.5 L773,46" stroke="#e4e4e4" stroke-width="1.2" fill="none"/>
<text transform="translate(777.80,54) scale(0.9923,1)" font-size="18" fill="#e4e4e4" >1792.03</text>
<text transform="translate(1083.60,324.2) scale(0.9908,1)" font-size="18" fill="#e4e4e4" >1460.19</text>
<path d="M1157,317 q4,-2.5 8,-1" stroke="#e4e4e4" stroke-width="1.3" fill="none"/>
<text transform="translate(1167.40,324.2) scale(0.9739,1)" font-size="18" fill="#e4e4e4" >1463.82</text>
<rect x="3.0" y="670.8" width="4.8" height="39.4" fill="#ff4040"/>
<rect x="9.9" y="673.6" width="4.8" height="36.6" fill="#00ffff"/>
<rect x="16.8" y="677.9" width="4.8" height="32.3" fill="#00ffff"/>
<rect x="23.7" y="673.0" width="4.8" height="37.2" fill="#ff4040"/>
<rect x="30.6" y="673.0" width="4.8" height="37.2" fill="#ff4040"/>
<rect x="37.4" y="660.3" width="4.8" height="49.9" fill="#00ffff"/>
<rect x="44.3" y="653.0" width="4.8" height="57.2" fill="#ff4040"/>
<rect x="51.2" y="653.0" width="4.8" height="57.2" fill="#ff4040"/>
<rect x="58.1" y="669.1" width="4.8" height="41.1" fill="#ff4040"/>
<rect x="64.9" y="659.1" width="4.8" height="51.1" fill="#00ffff"/>
<rect x="71.8" y="666.6" width="4.8" height="43.6" fill="#00ffff"/>
<rect x="78.7" y="672.0" width="4.8" height="38.2" fill="#ff4040"/>
<rect x="85.6" y="657.5" width="4.8" height="52.7" fill="#ff4040"/>
<rect x="92.5" y="638.0" width="4.8" height="72.2" fill="#ff4040"/>
<rect x="99.3" y="648.3" width="4.8" height="61.9" fill="#00ffff"/>
<rect x="106.2" y="653.0" width="4.8" height="57.2" fill="#ff4040"/>
<rect x="113.1" y="650.0" width="4.8" height="60.2" fill="#00ffff"/>
<rect x="120.0" y="657.5" width="4.8" height="52.7" fill="#00ffff"/>
<rect x="126.8" y="656.6" width="4.8" height="53.6" fill="#00ffff"/>
<rect x="133.7" y="661.6" width="4.8" height="48.6" fill="#ff4040"/>
<rect x="140.6" y="666.3" width="4.8" height="43.9" fill="#00ffff"/>
<rect x="147.5" y="655.0" width="4.8" height="55.2" fill="#00ffff"/>
<rect x="154.3" y="673.6" width="4.8" height="36.6" fill="#00ffff"/>
<rect x="161.2" y="672.0" width="4.8" height="38.2" fill="#ff4040"/>
<rect x="168.1" y="663.3" width="4.8" height="46.9" fill="#ff4040"/>
<rect x="175.0" y="662.5" width="4.8" height="47.7" fill="#00ffff"/>
<rect x="181.9" y="669.1" width="4.8" height="41.1" fill="#ff4040"/>
<rect x="188.7" y="654.1" width="4.8" height="56.1" fill="#ff4040"/>
<rect x="195.6" y="662.0" width="4.8" height="48.2" fill="#ff4040"/>
<rect x="202.5" y="660.3" width="4.8" height="49.9" fill="#ff4040"/>
<rect x="209.4" y="663.0" width="4.8" height="47.2" fill="#00ffff"/>
<rect x="216.2" y="669.1" width="4.8" height="41.1" fill="#00ffff"/>
<rect x="223.1" y="672.0" width="4.8" height="38.2" fill="#00ffff"/>
<rect x="230.0" y="673.6" width="4.8" height="36.6" fill="#ff4040"/>
<rect x="236.9" y="672.0" width="4.8" height="38.2" fill="#00ffff"/>
<rect x="243.7" y="668.0" width="4.8" height="42.2" fill="#ff4040"/>
<rect x="250.6" y="667.5" width="4.8" height="42.7" fill="#00ffff"/>
<rect x="257.5" y="673.6" width="4.8" height="36.6" fill="#00ffff"/>
<rect x="264.4" y="675.0" width="4.8" height="35.2" fill="#ff4040"/>
<rect x="271.3" y="676.6" width="4.8" height="33.6" fill="#00ffff"/>
<rect x="278.1" y="676.3" width="4.8" height="33.9" fill="#ff4040"/>
<rect x="285.0" y="677.4" width="4.8" height="32.8" fill="#00ffff"/>
<rect x="291.9" y="678.3" width="4.8" height="31.9" fill="#ff4040"/>
<rect x="298.8" y="664.6" width="4.8" height="45.6" fill="#ff4040"/>
<rect x="305.6" y="674.6" width="4.8" height="35.6" fill="#00ffff"/>
<rect x="312.5" y="669.1" width="4.8" height="41.1" fill="#00ffff"/>
<rect x="319.4" y="675.0" width="4.8" height="35.2" fill="#ff4040"/>
<rect x="326.3" y="677.9" width="4.8" height="32.3" fill="#00ffff"/>
<rect x="333.1" y="670.8" width="4.8" height="39.4" fill="#00ffff"/>
<rect x="340.0" y="661.6" width="4.8" height="48.6" fill="#ff4040"/>
<rect x="346.9" y="657.1" width="4.8" height="53.1" fill="#ff4040"/>
<rect x="353.8" y="660.3" width="4.8" height="49.9" fill="#ff4040"/>
<rect x="360.7" y="654.1" width="4.8" height="56.1" fill="#00ffff"/>
<rect x="367.5" y="659.6" width="4.8" height="50.6" fill="#00ffff"/>
<rect x="374.4" y="662.0" width="4.8" height="48.2" fill="#ff4040"/>
<rect x="381.3" y="662.0" width="4.8" height="48.2" fill="#00ffff"/>
<rect x="388.2" y="661.3" width="4.8" height="48.9" fill="#ff4040"/>
<rect x="395.0" y="663.0" width="4.8" height="47.2" fill="#ff4040"/>
<rect x="401.9" y="666.3" width="4.8" height="43.9" fill="#00ffff"/>
<rect x="408.8" y="667.5" width="4.8" height="42.7" fill="#ff4040"/>
<rect x="415.7" y="665.8" width="4.8" height="44.4" fill="#ff4040"/>
<rect x="422.5" y="669.1" width="4.8" height="41.1" fill="#00ffff"/>
<rect x="429.4" y="675.3" width="4.8" height="34.9" fill="#ff4040"/>
<rect x="436.3" y="668.0" width="4.8" height="42.2" fill="#ff4040"/>
<rect x="443.2" y="667.5" width="4.8" height="42.7" fill="#00ffff"/>
<rect x="450.1" y="666.3" width="4.8" height="43.9" fill="#00ffff"/>
<rect x="456.9" y="666.3" width="4.8" height="43.9" fill="#00ffff"/>
<rect x="463.8" y="675.3" width="4.8" height="34.9" fill="#00ffff"/>
<rect x="470.7" y="666.3" width="4.8" height="43.9" fill="#00ffff"/>
<rect x="477.6" y="670.0" width="4.8" height="40.2" fill="#ff4040"/>
<rect x="484.4" y="666.3" width="4.8" height="43.9" fill="#ff4040"/>
<rect x="491.3" y="660.5" width="4.8" height="49.7" fill="#ff4040"/>
<rect x="498.2" y="649.8" width="4.8" height="60.4" fill="#ff4040"/>
<rect x="505.1" y="654.3" width="4.8" height="55.9" fill="#ff4040"/>
<rect x="511.9" y="652.6" width="4.8" height="57.6" fill="#00ffff"/>
<rect x="518.8" y="634.8" width="4.8" height="75.4" fill="#ff4040"/>
<rect x="525.7" y="624.1" width="4.8" height="86.1" fill="#00ffff"/>
<rect x="532.6" y="639.6" width="4.8" height="70.6" fill="#ff4040"/>
<rect x="539.5" y="621.3" width="4.8" height="88.9" fill="#ff4040"/>
<rect x="546.3" y="628.9" width="4.8" height="81.3" fill="#ff4040"/>
<rect x="553.2" y="589.7" width="4.8" height="120.5" fill="#ff4040"/>
<rect x="560.1" y="582.1" width="4.8" height="128.1" fill="#00ffff"/>
<rect x="567.0" y="609.3" width="4.8" height="100.9" fill="#00ffff"/>
<rect x="573.8" y="628.4" width="4.8" height="81.8" fill="#ff4040"/>
<rect x="580.7" y="631.6" width="4.8" height="78.6" fill="#ff4040"/>
<rect x="587.6" y="594.2" width="4.8" height="116.0" fill="#ff4040"/>
<rect x="594.5" y="592.8" width="4.8" height="117.4" fill="#ff4040"/>
<rect x="601.3" y="576.0" width="4.8" height="134.2" fill="#ff4040"/>
<rect x="608.2" y="574.6" width="4.8" height="135.6" fill="#00ffff"/>
<rect x="615.1" y="570.1" width="4.8" height="140.1" fill="#ff4040"/>
<rect x="622.0" y="588.0" width="4.8" height="122.2" fill="#ff4040"/>
<rect x="628.9" y="565.7" width="4.8" height="144.5" fill="#ff4040"/>
<rect x="635.7" y="583.9" width="4.8" height="126.3" fill="#00ffff"/>
<rect x="642.6" y="612.4" width="4.8" height="97.8" fill="#00ffff"/>
<rect x="649.5" y="628.4" width="4.8" height="81.8" fill="#00ffff"/>
<rect x="656.4" y="630.2" width="4.8" height="80.0" fill="#ff4040"/>
<rect x="663.2" y="628.4" width="4.8" height="81.8" fill="#ff4040"/>
<rect x="670.1" y="627.2" width="4.8" height="83.0" fill="#00ffff"/>
<rect x="677.0" y="612.4" width="4.8" height="97.8" fill="#ff4040"/>
<rect x="683.9" y="626.3" width="4.8" height="83.9" fill="#00ffff"/>
<rect x="690.8" y="625.4" width="4.8" height="84.8" fill="#ff4040"/>
<rect x="697.6" y="623.6" width="4.8" height="86.6" fill="#00ffff"/>
<rect x="704.5" y="636.1" width="4.8" height="74.1" fill="#00ffff"/>
<rect x="711.4" y="637.3" width="4.8" height="72.9" fill="#00ffff"/>
<rect x="718.3" y="629.8" width="4.8" height="80.4" fill="#ff4040"/>
<rect x="725.1" y="609.3" width="4.8" height="100.9" fill="#ff4040"/>
<rect x="732.0" y="601.7" width="4.8" height="108.5" fill="#00ffff"/>
<rect x="738.9" y="618.8" width="4.8" height="91.4" fill="#ff4040"/>
<rect x="745.8" y="613.8" width="4.8" height="96.4" fill="#00ffff"/>
<rect x="752.6" y="611.7" width="4.8" height="98.5" fill="#00ffff"/>
<rect x="759.5" y="628.4" width="4.8" height="81.8" fill="#ff4040"/>
<rect x="766.4" y="613.8" width="4.8" height="96.4" fill="#00ffff"/>
<rect x="773.3" y="624.5" width="4.8" height="85.7" fill="#00ffff"/>
<rect x="780.2" y="640.9" width="4.8" height="69.3" fill="#ff4040"/>
<rect x="787.0" y="636.1" width="4.8" height="74.1" fill="#00ffff"/>
<rect x="793.9" y="628.4" width="4.8" height="81.8" fill="#ff4040"/>
<rect x="800.8" y="621.3" width="4.8" height="88.9" fill="#ff4040"/>
<rect x="807.7" y="627.2" width="4.8" height="83.0" fill="#00ffff"/>
<rect x="814.5" y="628.9" width="4.8" height="81.3" fill="#ff4040"/>
<rect x="821.4" y="624.1" width="4.8" height="86.1" fill="#00ffff"/>
<rect x="828.3" y="633.4" width="4.8" height="76.8" fill="#00ffff"/>
<rect x="835.2" y="637.9" width="4.8" height="72.3" fill="#ff4040"/>
<rect x="842.0" y="624.1" width="4.8" height="86.1" fill="#00ffff"/>
<rect x="848.9" y="642.3" width="4.8" height="67.9" fill="#00ffff"/>
<rect x="855.8" y="636.1" width="4.8" height="74.1" fill="#00ffff"/>
<rect x="862.7" y="654.4" width="4.8" height="55.8" fill="#ff4040"/>
<rect x="869.6" y="642.3" width="4.8" height="67.9" fill="#00ffff"/>
<rect x="876.4" y="649.8" width="4.8" height="60.4" fill="#00ffff"/>
<rect x="883.3" y="652.6" width="4.8" height="57.6" fill="#ff4040"/>
<rect x="890.2" y="657.5" width="4.8" height="52.7" fill="#00ffff"/>
<rect x="897.1" y="636.1" width="4.8" height="74.1" fill="#ff4040"/>
<rect x="903.9" y="652.6" width="4.8" height="57.6" fill="#00ffff"/>
<rect x="910.8" y="654.4" width="4.8" height="55.8" fill="#ff4040"/>
<rect x="917.7" y="651.2" width="4.8" height="59.0" fill="#ff4040"/>
<rect x="924.6" y="649.8" width="4.8" height="60.4" fill="#ff4040"/>
<rect x="931.4" y="639.6" width="4.8" height="70.6" fill="#00ffff"/>
<rect x="938.3" y="651.2" width="4.8" height="59.0" fill="#00ffff"/>
<rect x="945.2" y="650.3" width="4.8" height="59.9" fill="#ff4040"/>
<rect x="952.1" y="646.8" width="4.8" height="63.4" fill="#00ffff"/>
<rect x="959.0" y="643.7" width="4.8" height="66.5" fill="#00ffff"/>
<rect x="965.8" y="655.7" width="4.8" height="54.5" fill="#00ffff"/>
<rect x="972.7" y="648.5" width="4.8" height="61.7" fill="#ff4040"/>
<rect x="979.6" y="646.8" width="4.8" height="63.4" fill="#ff4040"/>
<rect x="986.5" y="654.4" width="4.8" height="55.8" fill="#ff4040"/>
<rect x="993.3" y="651.2" width="4.8" height="59.0" fill="#00ffff"/>
<rect x="1000.2" y="655.7" width="4.8" height="54.5" fill="#00ffff"/>
<rect x="1007.1" y="651.2" width="4.8" height="59.0" fill="#00ffff"/>
<rect x="1014.0" y="657.5" width="4.8" height="52.7" fill="#00ffff"/>
<rect x="1020.8" y="657.5" width="4.8" height="52.7" fill="#00ffff"/>
<rect x="1027.7" y="656.2" width="4.8" height="54.0" fill="#00ffff"/>
<rect x="1034.6" y="664.9" width="4.8" height="45.3" fill="#ff4040"/>
<rect x="1041.5" y="640.9" width="4.8" height="69.3" fill="#ff4040"/>
<rect x="1048.4" y="646.8" width="4.8" height="63.4" fill="#00ffff"/>
<rect x="1055.2" y="646.8" width="4.8" height="63.4" fill="#ff4040"/>
<rect x="1062.1" y="648.0" width="4.8" height="62.2" fill="#00ffff"/>
<rect x="1069.0" y="661.9" width="4.8" height="48.3" fill="#00ffff"/>
<rect x="1075.9" y="664.9" width="4.8" height="45.3" fill="#ff4040"/>
<rect x="1082.7" y="645.3" width="4.8" height="64.9" fill="#00ffff"/>
<rect x="1089.6" y="640.9" width="4.8" height="69.3" fill="#ff4040"/>
<rect x="1096.5" y="624.5" width="4.8" height="85.7" fill="#00ffff"/>
<rect x="1103.4" y="636.4" width="4.8" height="73.8" fill="#00ffff"/>
<rect x="1110.2" y="640.9" width="4.8" height="69.3" fill="#00ffff"/>
<rect x="1117.1" y="649.8" width="4.8" height="60.4" fill="#ff4040"/>
<rect x="1124.0" y="640.9" width="4.8" height="69.3" fill="#ff4040"/>
<rect x="1130.9" y="645.3" width="4.8" height="64.9" fill="#00ffff"/>
<rect x="1137.8" y="630.2" width="4.8" height="80.0" fill="#ff4040"/>
<rect x="1144.6" y="640.9" width="4.8" height="69.3" fill="#ff4040"/>
<rect x="1151.5" y="649.8" width="4.8" height="60.4" fill="#00ffff"/>
<rect x="1158.4" y="654.4" width="4.8" height="55.8" fill="#00ffff"/>
<rect x="1165.3" y="661.9" width="4.8" height="48.3" fill="#ff4040"/>
<rect x="1172.1" y="649.8" width="4.8" height="60.4" fill="#00ffff"/>
<rect x="1179.0" y="666.4" width="4.8" height="43.8" fill="#ff4040"/>
<rect x="1185.9" y="666.4" width="4.8" height="43.8" fill="#00ffff"/>
<rect x="1192.8" y="664.9" width="4.8" height="45.3" fill="#00ffff"/>
<rect x="1199.6" y="666.4" width="4.8" height="43.8" fill="#ff4040"/>
<rect x="1206.5" y="649.8" width="4.8" height="60.4" fill="#ff4040"/>
<rect x="1213.4" y="661.9" width="4.8" height="48.3" fill="#00ffff"/>
<rect x="1220.3" y="657.5" width="4.8" height="52.7" fill="#ff4040"/>
<rect x="1227.2" y="660.1" width="4.8" height="50.1" fill="#00ffff"/>
<rect x="1234.0" y="664.9" width="4.8" height="45.3" fill="#ff4040"/>
<rect x="1240.9" y="661.9" width="4.8" height="48.3" fill="#00ffff"/>
<rect x="1247.8" y="669.0" width="4.8" height="41.2" fill="#ff4040"/>
<rect x="1254.7" y="657.5" width="4.8" height="52.7" fill="#ff4040"/>
<rect x="1261.5" y="661.9" width="4.8" height="48.3" fill="#ff4040"/>
<rect x="1268.4" y="667.6" width="4.8" height="42.6" fill="#00ffff"/>
<rect x="1275.3" y="667.6" width="4.8" height="42.6" fill="#ff4040"/>
<rect x="1282.2" y="664.9" width="4.8" height="45.3" fill="#ff4040"/>
<rect x="1289.0" y="666.4" width="4.8" height="43.8" fill="#00ffff"/>
<rect x="1295.9" y="667.6" width="4.8" height="42.6" fill="#ff4040"/>
<rect x="1302.8" y="658.7" width="4.8" height="51.5" fill="#ff4040"/>
<rect x="1309.7" y="664.9" width="4.8" height="45.3" fill="#00ffff"/>
<rect x="1316.6" y="648.0" width="4.8" height="62.2" fill="#ff4040"/>
<rect x="1323.4" y="666.4" width="4.8" height="43.8" fill="#00ffff"/>
<rect x="1330.3" y="669.0" width="4.8" height="41.2" fill="#ff4040"/>
<rect x="1337.2" y="663.3" width="4.8" height="46.9" fill="#00ffff"/>
<rect x="1344.1" y="666.4" width="4.8" height="43.8" fill="#ff4040"/>
<rect x="1350.9" y="669.0" width="4.8" height="41.2" fill="#00ffff"/>
<rect x="1357.8" y="661.9" width="4.8" height="48.3" fill="#00ffff"/>
<rect x="1364.7" y="658.7" width="4.8" height="51.5" fill="#ff4040"/>
<rect x="1371.6" y="655.7" width="4.8" height="54.5" fill="#ff4040"/>
<rect x="1378.4" y="636.4" width="4.8" height="73.8" fill="#ff4040"/>
<rect x="1385.3" y="640.9" width="4.8" height="69.3" fill="#00ffff"/>
<rect x="1392.2" y="652.6" width="4.8" height="57.6" fill="#00ffff"/>
<rect x="1399.1" y="652.6" width="4.8" height="57.6" fill="#00ffff"/>
<rect x="1406.0" y="651.2" width="4.8" height="59.0" fill="#ff4040"/>
<rect x="1412.8" y="653.9" width="4.8" height="56.3" fill="#ff4040"/>
<rect x="1419.7" y="642.3" width="4.8" height="67.9" fill="#ff4040"/>
<rect x="1426.6" y="646.8" width="4.8" height="63.4" fill="#00ffff"/>
<rect x="1433.5" y="645.3" width="4.8" height="64.9" fill="#00ffff"/>
<rect x="1440.3" y="634.8" width="4.8" height="75.4" fill="#00ffff"/>
<polyline points="5.0,665.0 10.0,665.8 18.3,672.5 25.0,674.6 33.3,674.6 40.0,672.5 46.6,667.5 54.1,663.0 60.8,662.5 67.5,659.1 74.1,660.8 81.6,665.0 88.3,664.1 94.9,659.6 101.6,657.5 108.3,655.0 114.9,650.3 122.4,650.0 129.1,653.0 136.6,656.6 143.2,659.1 149.9,660.8 157.4,664.1 164.1,667.0 170.7,667.0 177.4,666.6 184.0,668.3 191.5,665.8 198.2,664.6 204.9,662.5 212.4,663.0 219.0,663.0 225.7,665.0 233.2,668.3 239.8,670.0 245.0,671.6 253.3,669.6 260.0,671.6 267.0,672.0 274.1,673.3 280.6,675.0 287.6,677.4 294.5,677.4 301.3,675.8 308.3,674.6 315.1,673.3 321.9,671.6 328.8,672.0 335.6,672.5 342.6,670.0 349.4,668.0 356.3,665.8 363.3,660.8 370.1,659.1 376.9,659.1 386.6,659.6 390.7,661.6 397.6,662.0 404.4,664.1 411.2,665.3 418.2,665.3 425.0,666.6 431.9,670.0 438.9,670.0 445.7,670.3 452.5,670.0 459.5,668.6 466.4,668.6 473.2,668.3 480.0,669.6 487.0,669.6 490.0,668.2 500.7,663.7 507.8,661.9 514.1,658.3 521.5,650.3 527.8,644.1 535.1,641.4 542.6,635.2 548.8,630.7 556.3,620.9 562.2,612.0 569.7,606.7 577.3,608.1 583.2,608.1 590.7,610.2 596.9,612.0 604.0,604.0 610.3,592.4 617.8,583.5 624.9,581.4 631.3,575.5 638.8,577.3 644.7,585.3 652.2,595.1 659.6,606.7 665.9,618.3 673.2,626.6 679.2,626.6 686.5,626.6 692.8,624.9 700.3,622.7 707.7,626.3 713.6,630.7 721.1,630.7 727.3,627.2 735.0,623.6 742.1,619.1 748.4,614.7 755.5,611.7 761.7,615.6 769.2,617.4 776.5,620.0 782.8,625.4 790.2,629.5 796.5,629.8 803.6,631.3 809.8,632.5 817.3,629.8 824.6,628.1 830.9,628.1 838.3,630.7 844.2,631.6 851.7,632.5 859.2,635.5 865.4,639.6 872.7,640.5 879.0,645.9 886.5,647.7 892.3,652.1 899.8,648.5 907.3,650.3 913.2,651.2 920.7,650.3 926.9,649.4 934.2,650.3 941.7,650.3 947.9,649.1 955.4,648.0 961.3,647.7 968.8,650.3 976.1,650.3 980.0,648.5 989.8,651.2 995.7,652.6 1003.2,652.1 1009.4,652.1 1016.9,655.1 1024.2,655.1 1030.4,656.6 1037.6,658.0 1043.8,656.2 1051.3,653.9 1058.8,652.1 1064.6,651.2 1072.1,648.5 1078.4,654.8 1085.7,653.0 1093.2,651.2 1099.4,647.7 1106.5,642.3 1112.8,638.4 1120.2,637.9 1126.5,638.4 1133.8,642.3 1141.3,642.7 1147.5,642.0 1154.6,643.2 1160.9,645.0 1168.3,647.7 1175.7,650.3 1181.9,657.5 1189.4,661.0 1195.3,662.3 1202.7,664.1 1209.0,664.1 1216.5,662.3 1220.0,660.1 1229.8,659.2 1237.3,659.2 1243.2,661.6 1250.6,662.3 1258.0,662.3 1264.2,662.3 1271.7,664.1 1277.6,665.5 1285.0,664.6 1292.5,666.9 1298.8,666.9 1306.1,665.1 1312.1,665.1 1319.4,661.6 1325.7,661.6 1333.2,661.6 1340.6,662.8 1346.9,664.1 1354.0,668.2 1360.2,666.9 1367.5,665.5 1375.0,663.3 1381.3,656.6 1388.4,650.3 1394.6,648.5 1402.1,648.5 1409.4,647.1 1415.7,650.3 1423.1,652.1 1429.4,650.9 1436.5,649.4 1441.0,645.9" fill="none" stroke="#f0f0f0" stroke-width="1.4" stroke-linejoin="round" />
<polyline points="5.0,670.0 18.3,670.0 33.3,670.0 40.0,668.3 54.1,666.6 60.8,668.0 67.5,666.6 81.6,666.6 88.3,665.0 94.9,660.8 101.6,658.0 116.6,658.3 122.4,658.0 129.1,656.3 143.2,655.8 149.9,654.6 157.4,656.6 164.1,659.1 177.4,662.5 184.0,664.1 198.2,665.0 212.4,664.1 219.0,665.3 233.2,665.8 239.8,667.0 245.0,667.5 253.3,667.0 260.0,668.3 267.0,669.1 274.1,671.6 280.6,672.5 287.6,673.3 294.5,674.1 301.3,673.0 308.3,673.3 315.1,673.3 321.9,674.6 328.8,674.6 335.6,674.1 342.6,672.0 349.4,670.0 356.3,668.0 363.3,667.0 370.1,665.3 376.9,665.8 383.7,664.1 390.7,662.0 397.6,662.5 404.4,661.3 411.2,662.5 418.2,662.5 425.0,663.3 431.9,665.0 438.9,667.0 445.7,667.5 452.5,668.0 459.5,668.0 466.4,669.6 473.2,669.6 480.0,670.0 487.0,670.0 490.0,668.2 500.7,665.5 507.8,665.5 514.1,663.7 521.5,659.2 527.8,655.7 535.1,651.2 542.6,647.3 548.8,644.1 556.3,635.2 562.2,628.1 569.7,625.4 577.3,621.8 583.2,618.8 590.7,615.6 596.9,612.4 604.0,606.7 610.3,600.4 617.8,596.9 624.9,595.1 631.3,593.3 638.8,591.5 644.7,590.6 652.2,588.9 659.6,591.5 665.9,595.1 673.2,599.5 679.2,604.0 686.5,609.3 692.8,613.8 700.3,619.1 707.7,625.4 713.6,628.1 721.1,628.1 727.3,626.3 735.0,623.6 742.1,622.4 748.4,622.4 755.5,620.9 761.7,622.4 769.2,620.6 776.5,618.8 782.8,618.8 790.2,620.6 796.5,622.4 803.6,624.9 809.8,625.9 817.3,627.7 824.6,628.1 830.9,628.9 838.3,630.7 844.2,631.3 851.7,631.3 859.2,631.3 865.4,634.3 872.7,636.1 879.0,638.4 886.5,640.5 892.3,642.7 899.8,645.0 907.3,646.2 913.2,648.5 920.7,649.1 926.9,649.1 934.2,649.1 941.7,650.3 947.9,649.8 955.4,649.4 961.3,648.5 968.8,650.9 976.1,650.9 980.0,648.5 989.8,648.5 995.7,649.1 1003.2,651.2 1009.4,650.3 1016.9,651.6 1024.2,652.1 1030.4,653.4 1037.6,654.8 1043.8,653.4 1051.3,653.9 1058.8,653.4 1064.6,653.4 1072.1,653.4 1078.4,655.1 1085.7,653.9 1093.2,652.1 1099.4,648.5 1106.5,646.2 1112.8,646.2 1120.2,646.2 1126.5,646.2 1133.8,646.2 1141.3,642.7 1147.5,640.2 1154.6,640.2 1160.9,641.4 1168.3,645.9 1175.7,647.7 1181.9,650.3 1189.4,652.1 1195.3,653.0 1202.7,656.2 1209.0,658.0 1216.5,659.8 1220.0,661.6 1229.8,661.6 1237.3,661.6 1243.2,662.8 1250.6,662.8 1258.0,662.8 1264.2,661.6 1271.7,662.8 1277.6,663.7 1285.0,663.7 1292.5,664.1 1298.8,665.1 1306.1,664.1 1312.1,665.1 1319.4,662.8 1325.7,664.1 1333.2,664.1 1340.6,664.1 1346.9,664.1 1354.0,663.7 1360.2,664.1 1367.5,664.1 1375.0,662.3 1381.3,661.6 1388.4,659.2 1394.6,657.5 1402.1,656.6 1409.4,655.1 1415.7,653.9 1423.1,651.2 1429.4,650.9 1436.5,648.5 1441.0,646.2" fill="none" stroke="#e6e600" stroke-width="1.4" stroke-linejoin="round" />
<polyline points="5.6,805.8 12.4,808.2 19.4,811.8 26.3,811.8 33.1,808.2 40.1,806.2 46.1,791.2 53.1,787.2 60.1,782.2 67.2,781.2 74.2,784.2 81.2,788.2 87.2,780.2 94.2,776.2 101.8,777.2 109.3,772.1 116.3,772.1 123.3,779.2 128.3,791.8 136.3,802.2 143.3,812.2 150.4,831.3 157.4,840.3 164.4,845.3 170.4,839.3 176.4,843.9 183.4,840.3 190.5,821.3 197.5,798.2 205.5,788.2 212.5,797.2 219.5,806.2 226.5,818.3 233.6,821.9 243.6,823.9 245.0,824.3 252.0,839.9 259.0,844.3 266.1,849.3 274.1,855.9 280.1,855.9 287.1,855.9 294.1,850.7 301.1,848.3 308.2,848.7 314.6,853.3 322.2,852.7 328.2,857.3 335.8,860.8 339.2,853.3 344.3,839.3 349.3,825.3 356.3,813.2 362.3,805.2 370.3,801.2 377.3,797.2 383.9,801.8 390.4,798.6 397.4,793.2 404.8,808.2 411.4,805.2 418.4,797.8 425.4,810.2 432.1,820.3 438.5,816.3 445.5,811.8 452.5,815.2 460.5,824.3 466.5,840.3 473.6,845.3 476.6,836.3 480.0,819.3 484.0,806.2 488.0,796.2 494.0,786.2 501.1,779.2 508.1,774.6 515.1,772.1 521.1,769.1 528.1,769.1 535.1,770.5 542.6,773.7 549.2,768.1 556.2,765.7 563.2,770.5 569.2,776.2 576.6,778.2 583.2,775.2 590.3,774.1 597.3,768.1 604.3,765.7 611.3,769.1 617.9,776.6 624.3,772.1 630.4,769.7 637.4,777.2 641.4,788.2 645.4,799.2 652.4,812.2 659.4,814.2 666.0,814.6 672.9,820.3 679.5,818.3 686.5,821.3 693.5,829.3 700.5,840.3 707.5,844.3 714.2,850.3 717.6,840.3 720.0,834.3 724.0,816.3 727.6,806.2 734.0,796.2 741.1,786.6 748.1,779.8 755.1,783.2 762.1,786.2 769.1,792.2 776.1,804.2 783.2,822.3 790.2,837.9 797.2,834.3 803.2,828.3 811.2,824.3 817.2,815.2 824.3,812.2 830.3,813.8 838.3,800.6 845.3,812.2 851.3,823.3 858.3,836.3 865.3,844.3 872.4,851.3 879.4,853.3 886.4,856.7 892.4,860.8 899.4,854.7 906.4,853.3 913.5,852.3 920.5,844.3 926.9,827.9 933.5,832.7 940.5,837.3 947.5,831.3 954.6,827.9 960.0,838.7 968.4,849.3 975.0,835.9 981.7,822.7 989.1,816.7 995.7,809.2 1002.5,805.2 1009.1,810.6 1016.1,820.3 1023.2,829.3 1030.2,842.3 1037.2,844.3 1040.2,835.3 1043.8,822.7 1051.2,812.2 1058.6,803.8 1065.3,808.2 1072.3,811.8 1079.3,810.6 1086.3,808.2 1092.3,797.2 1099.3,787.2 1106.4,785.8 1112.4,789.8 1119.4,790.6 1126.0,783.8 1132.8,785.8 1139.4,777.2 1146.4,773.7 1153.5,779.2 1160.5,791.2 1167.5,792.2 1174.5,810.2 1181.5,822.3 1189.6,831.9 1196.6,835.3 1200.0,837.3 1202.4,836.7 1206.0,824.3 1210.0,814.2 1215.0,805.2 1220.0,799.8 1224.1,797.2 1229.7,805.8 1237.1,802.6 1243.1,813.8 1251.1,811.8 1257.1,801.2 1264.2,787.2 1271.2,782.2 1278.2,774.6 1285.2,776.6 1291.8,780.2 1299.2,783.2 1305.3,789.2 1311.3,817.3 1318.3,825.3 1325.9,833.9 1333.3,831.9 1340.3,835.9 1346.4,824.3 1353.4,821.9 1360.4,810.6 1366.8,799.2 1373.4,792.2 1381.4,781.2 1387.4,779.8 1394.1,779.8 1401.5,777.8 1409.5,776.2 1416.1,778.6 1422.9,777.8 1429.6,780.2 1436.6,787.2 1441.6,799.2" fill="none" stroke="#e0e0e0" stroke-width="1.15" stroke-linejoin="round" />
<polyline points="5.6,820.3 12.4,815.8 19.4,813.8 26.3,813.8 33.1,812.2 40.1,810.2 46.1,803.2 53.1,799.2 60.1,793.2 67.2,790.2 74.2,788.6 81.2,788.2 87.2,785.2 94.2,782.2 101.8,780.6 109.3,777.2 116.3,774.6 123.3,777.2 128.3,781.2 136.3,789.2 143.3,796.2 150.4,807.8 157.4,818.3 164.4,827.9 170.4,831.3 176.4,836.7 183.4,837.3 190.5,831.9 197.5,820.3 205.5,808.6 212.5,804.6 219.5,805.2 226.5,810.2 233.6,814.2 243.6,817.3 245.0,818.3 252.0,825.9 259.0,832.3 266.1,837.9 274.1,844.3 280.1,848.3 287.1,849.9 294.1,850.3 301.1,849.9 308.2,849.9 314.6,851.3 322.2,851.3 328.2,853.3 335.8,855.9 339.2,854.7 344.3,850.3 349.3,841.3 356.3,832.3 362.3,823.3 370.3,816.3 377.3,809.2 383.9,807.2 390.4,804.2 397.4,800.2 404.8,803.2 411.4,803.8 418.4,802.2 425.4,805.2 432.1,809.8 438.5,811.2 445.5,811.2 452.5,812.6 460.5,816.3 466.5,824.3 473.6,832.7 476.6,830.3 480.0,829.3 484.0,823.3 488.0,818.3 494.0,808.2 501.1,799.2 508.1,791.2 515.1,784.2 521.1,781.2 528.1,776.6 535.1,775.2 542.6,774.6 549.2,773.1 556.2,770.5 563.2,770.5 569.2,772.1 576.6,775.2 583.2,775.2 590.3,774.6 597.3,773.1 604.3,770.5 611.3,770.1 617.9,772.1 624.3,772.1 630.4,771.1 637.4,772.1 641.4,776.6 645.4,783.2 652.4,793.2 659.4,800.2 666.0,805.8 672.9,809.2 679.5,812.2 686.5,815.2 693.5,820.3 700.5,826.3 707.5,832.3 714.2,838.3 717.6,837.3 720.0,833.3 724.0,828.3 727.6,823.3 734.0,815.2 741.1,806.2 748.1,797.2 755.1,793.2 762.1,789.2 769.1,792.2 776.1,795.2 783.2,803.8 790.2,814.6 797.2,821.3 803.2,824.3 811.2,825.9 817.2,821.9 824.3,819.3 830.3,817.3 838.3,811.2 845.3,811.8 851.3,815.8 858.3,822.7 865.3,829.9 872.4,836.7 879.4,842.7 886.4,846.7 892.4,850.3 899.4,853.3 906.4,853.3 913.5,853.3 920.5,850.3 926.9,843.3 933.5,839.3 940.5,839.3 947.5,836.3 954.6,833.3 960.0,835.9 968.4,839.3 975.0,839.3 981.7,832.3 989.1,826.7 995.7,820.3 1002.5,815.8 1009.1,814.2 1016.1,817.3 1023.2,820.3 1030.2,827.3 1037.2,833.3 1040.2,831.9 1043.8,830.3 1051.2,824.7 1058.6,817.3 1065.3,814.2 1072.3,813.8 1079.3,812.6 1086.3,810.6 1092.3,807.8 1099.3,798.6 1106.4,794.6 1112.4,792.6 1119.4,792.2 1126.0,790.2 1132.8,788.6 1139.4,785.2 1146.4,781.2 1153.5,781.2 1160.5,783.8 1167.5,787.2 1174.5,794.2 1181.5,804.2 1189.6,814.2 1196.6,821.3 1200.0,822.3 1202.4,823.3 1206.0,821.9 1210.0,821.3 1215.0,818.3 1220.0,813.2 1224.1,810.2 1229.7,809.2 1237.1,807.2 1243.1,809.8 1251.1,810.6 1257.1,807.2 1264.2,800.2 1271.2,795.2 1278.2,787.2 1285.2,783.8 1291.8,782.2 1299.2,782.6 1305.3,785.2 1311.3,796.2 1318.3,805.8 1325.9,816.7 1333.3,821.9 1340.3,825.9 1346.4,825.9 1353.4,824.3 1360.4,821.3 1366.8,814.2 1373.4,807.2 1381.4,798.2 1387.4,793.2 1394.1,788.6 1401.5,784.6 1409.5,781.2 1416.1,780.6 1422.9,779.2 1429.6,779.2 1436.6,782.6 1441.6,787.8" fill="none" stroke="#e0e000" stroke-width="1.25" stroke-linejoin="round" />
<polyline points="5.6,780.6 12.4,792.2 19.4,805.8 26.3,810.2 33.1,802.2 40.1,800.2 46.1,767.1 53.1,763.1 60.1,763.1 67.2,767.1 74.2,778.2 81.2,788.6 87.2,772.1 94.2,763.1 101.8,771.1 109.3,759.7 116.3,765.1 123.3,778.2 128.3,814.2 136.3,827.3 143.3,842.3 150.4,875.4 157.4,886.4 164.4,877.4 170.4,855.9 176.4,860.8 183.4,846.3 190.5,791.2 197.5,755.1 205.5,748.1 212.5,784.2 219.5,808.2 226.5,833.3 233.6,836.7 243.6,836.7 245.0,837.3 252.0,866.4 259.0,870.4 266.1,871.4 274.1,878.8 280.1,871.4 287.1,867.4 294.1,852.3 301.1,845.3 308.2,846.7 314.6,859.4 322.2,853.3 328.2,864.4 335.8,872.8 339.2,850.3 344.3,812.2 349.3,785.2 356.3,772.1 362.3,767.7 370.3,771.1 377.3,774.1 383.9,793.2 390.4,785.2 397.4,776.6 404.8,818.3 411.4,804.6 418.4,790.6 425.4,816.3 432.1,841.3 438.5,826.3 445.5,811.2 452.5,822.3 460.5,839.3 466.5,868.4 473.6,874.0 476.6,850.3 480.0,808.2 484.0,780.2 488.0,762.1 494.0,748.1 501.1,742.1 508.1,743.7 515.1,749.7 521.1,746.1 528.1,756.5 535.1,761.1 542.6,775.2 549.2,761.7 556.2,758.5 563.2,772.1 569.2,783.2 576.6,787.2 583.2,774.6 590.3,773.1 597.3,762.1 604.3,758.5 611.3,769.1 617.9,785.8 624.3,770.1 630.4,765.7 637.4,782.2 641.4,808.2 645.4,834.3 652.4,853.3 659.4,842.3 666.0,833.3 672.9,839.3 679.5,831.9 686.5,831.9 693.5,845.3 700.5,867.4 707.5,866.4 714.2,872.8 717.6,850.3 720.0,836.3 724.0,792.2 727.6,771.1 734.0,757.1 741.1,745.1 748.1,742.1 755.1,763.7 762.1,779.2 769.1,794.2 776.1,824.3 783.2,860.4 790.2,883.4 797.2,856.3 803.2,836.3 811.2,825.9 817.2,804.2 824.3,800.6 830.3,807.2 838.3,778.2 845.3,812.2 851.3,836.3 858.3,864.4 865.3,872.0 872.4,880.0 879.4,875.4 886.4,875.4 892.4,878.4 899.4,857.3 906.4,853.3 913.5,852.3 920.5,834.3 926.9,797.8 933.5,822.3 940.5,836.7 947.5,818.3 954.6,815.8 960.0,848.3 968.4,866.4 975.0,834.3 981.7,800.2 989.1,792.6 995.7,783.8 1002.5,783.8 1009.1,804.6 1016.1,828.3 1023.2,846.3 1030.2,869.4 1037.2,866.4 1040.2,836.3 1043.8,808.2 1051.2,789.2 1058.6,775.2 1065.3,796.2 1072.3,812.2 1079.3,806.2 1086.3,799.2 1092.3,775.8 1099.3,763.7 1106.4,766.5 1112.4,784.2 1119.4,788.6 1126.0,773.7 1132.8,776.6 1139.4,763.7 1146.4,758.5 1153.5,776.2 1160.5,803.2 1167.5,802.2 1174.5,837.3 1181.5,852.3 1189.6,866.8 1196.6,863.4 1200.0,862.4 1202.4,859.4 1206.0,832.3 1210.0,806.2 1215.0,787.2 1220.0,777.2 1224.1,772.1 1229.7,799.2 1237.1,793.2 1243.1,824.7 1251.1,815.2 1257.1,789.2 1264.2,760.1 1271.2,757.1 1278.2,749.1 1285.2,762.1 1291.8,775.8 1299.2,783.2 1305.3,803.2 1311.3,860.8 1318.3,866.4 1325.9,871.4 1333.3,853.3 1340.3,854.7 1346.4,823.3 1353.4,820.3 1360.4,798.2 1366.8,775.2 1373.4,765.7 1381.4,748.1 1387.4,752.1 1394.1,761.1 1401.5,764.5 1409.5,764.5 1416.1,776.6 1422.9,773.1 1429.6,780.2 1436.6,797.2 1443.0,824.7" fill="none" stroke="#e800e8" stroke-width="1.2" stroke-linejoin="round" />
<rect x="2" y="536" width="1499" height="2" fill="#8c0000"/>
<rect x="2" y="711" width="1499" height="2" fill="#8c0000"/>
<rect x="2" y="888" width="1499" height="2" fill="#8c0000"/>
<rect x="1467.5" y="9" width="1.8" height="889" fill="#8c0000"/>
<rect x="1467.5" y="712" width="3.4" height="176.5" fill="#8c0000"/>
<rect x="1468" y="711" width="33" height="3.3" fill="#8c0000"/>
<rect x="1468" y="886.9" width="33" height="3.2" fill="#8c0000"/>
<rect x="1469" y="32.7" width="8" height="1.6" fill="#8c0000"/>
<rect x="1500" y="29.6" width="1" height="2" fill="#8c0000"/>
<rect x="1469" y="72.5" width="4" height="1.6" fill="#8c0000"/>
<rect x="1500" y="69.3" width="1" height="2" fill="#8c0000"/>
<rect x="1469" y="112.2" width="8" height="1.6" fill="#8c0000"/>
<rect x="1500" y="109.1" width="1" height="2" fill="#8c0000"/>
<rect x="1469" y="151.9" width="4" height="1.6" fill="#8c0000"/>
<rect x="1500" y="148.8" width="1" height="2" fill="#8c0000"/>
<rect x="1469" y="191.7" width="8" height="1.6" fill="#8c0000"/>
<rect x="1500" y="188.6" width="1" height="2" fill="#8c0000"/>
<rect x="1469" y="231.4" width="4" height="1.6" fill="#8c0000"/>
<rect x="1500" y="228.3" width="1" height="2" fill="#8c0000"/>
<rect x="1469" y="271.2" width="8" height="1.6" fill="#8c0000"/>
<rect x="1500" y="268.1" width="1" height="2" fill="#8c0000"/>
<rect x="1469" y="310.9" width="4" height="1.6" fill="#8c0000"/>
<rect x="1500" y="307.9" width="1" height="2" fill="#8c0000"/>
<rect x="1469" y="350.7" width="8" height="1.6" fill="#8c0000"/>
<rect x="1500" y="347.6" width="1" height="2" fill="#8c0000"/>
<rect x="1469" y="390.4" width="4" height="1.6" fill="#8c0000"/>
<rect x="1500" y="387.4" width="1" height="2" fill="#8c0000"/>
<rect x="1469" y="430.2" width="8" height="1.6" fill="#8c0000"/>
<rect x="1500" y="427.1" width="1" height="2" fill="#8c0000"/>
<rect x="1469" y="469.9" width="4" height="1.6" fill="#8c0000"/>
<rect x="1500" y="466.9" width="1" height="2" fill="#8c0000"/>
<rect x="1469" y="509.7" width="8" height="1.6" fill="#8c0000"/>
<rect x="1500" y="506.6" width="1" height="2" fill="#8c0000"/>
<rect x="1469" y="586.5" width="8" height="1.6" fill="#8c0000"/>
<rect x="1469" y="627.2" width="8" height="1.6" fill="#8c0000"/>
<rect x="1469" y="667.8" width="8" height="1.6" fill="#8c0000"/>
<rect x="1469" y="607.0" width="4" height="1.6" fill="#8c0000"/>
<rect x="1469" y="647.7" width="4" height="1.6" fill="#8c0000"/>
<rect x="1469" y="688.8" width="32" height="1.8" fill="#8c0000"/>
<text x="1489" y="594" font-size="18" fill="#b80000">15</text>
<text x="1489" y="634.5" font-size="18" fill="#b80000">10</text>
<text x="1499" y="675" font-size="18" fill="#b80000">5</text>
<text transform="translate(1471.80,707.1) scale(0.7773,1)" font-size="18" fill="#b80000" >X1</text>
<text x="1485" y="766.5" font-size="18" fill="#b80000">100</text>
<text x="1495" y="789" font-size="18" fill="#b80000">80</text>
<text x="1495" y="822.4" font-size="18" fill="#b80000">50</text>
<text x="1495" y="855.2" font-size="18" fill="#b80000">20</text>
<path d="M1435.2,15.2 l8,8 l-8,8 l-8,-8 z" fill="none" stroke="#8c0000" stroke-width="1.4"/>
<rect x="1450" y="15.8" width="14" height="15" fill="none" stroke="#8c0000" stroke-width="1.5"/>
<line x1="1459.5" y1="15.8" x2="1459.5" y2="30.8" stroke="#8c0000" stroke-width="1.4"/>
<text x="1491.5" y="709" font-size="18.5" fill="#b80000" font-family="Liberation Sans, Noto Sans CJK SC, sans-serif">万</text>
<text x="0.3" y="30.4" font-size="19.5" fill="#e4e4e4" font-family="Liberation Sans, Noto Sans CJK SC, sans-serif">创</text>
<text x="18.5" y="30.4" font-size="19.5" fill="#e4e4e4" font-family="Liberation Sans, Noto Sans CJK SC, sans-serif">业</text>
<text x="37.3" y="30.4" font-size="19.5" fill="#e4e4e4" font-family="Liberation Sans, Noto Sans CJK SC, sans-serif">板</text>
<text x="56.2" y="30.4" font-size="19.5" fill="#e4e4e4" font-family="Liberation Sans, Noto Sans CJK SC, sans-serif">指</text>
<text x="79.75" y="30.4" font-size="19.5" fill="#e4e4e4" font-family="Liberation Sans, Noto Sans CJK SC, sans-serif">日</text>
<text x="98.3" y="30.4" font-size="19.5" fill="#e4e4e4" font-family="Liberation Sans, Noto Sans CJK SC, sans-serif">线</text>
<text x="121.3" y="30.4" font-size="19.5" fill="#e4e4e4" font-family="Liberation Sans, Noto Sans CJK SC, sans-serif">前</text>
<text x="140.3" y="30.4" font-size="19.5" fill="#e4e4e4" font-family="Liberation Sans, Noto Sans CJK SC, sans-serif">复</text>
<text x="159.3" y="30.4" font-size="19.5" fill="#e4e4e4" font-family="Liberation Sans, Noto Sans CJK SC, sans-serif">权</text>
<text transform="translate(76.30,28.5) scale(0.6167,1)" font-size="18" fill="#e4e4e4" >(</text>
<rect x="118.3" y="28.3" width="2" height="2" fill="#e4e4e4"/>
<text transform="translate(178.60,28.5) scale(0.6167,1)" font-size="18" fill="#e4e4e4" >)</text>
<path d="M198.6,14 l7.7,8.6 h-4.6 v7.6 h-6.2 v-7.6 h-4.6 z" fill="#ff0000"/>
<text transform="translate(211.90,28) scale(0.9509,1)" font-size="18" fill="#e4e4e4" >EXPMA(12,50)</text>
<text transform="translate(335.80,28) scale(0.9059,1)" font-size="18" fill="#e4e4e4" >EXP1:</text>
<text transform="translate(391.20,28) scale(0.9831,1)" font-size="18" fill="#e4e4e4" >1602.30</text>
<text transform="translate(465.10,28) scale(0.9059,1)" font-size="18" fill="#e8e800" >EXP2:</text>
<text transform="translate(519.20,28) scale(0.9846,1)" font-size="18" fill="#e8e800" >1561.20</text>
<text transform="translate(2.70,555) scale(0.9333,1)" font-size="18" fill="#e4e4e4" >VOLUME:</text>
<text transform="translate(85.40,555) scale(1.0190,1)" font-size="18" fill="#e4e4e4" >89764720.00</text>
<text transform="translate(203.30,555) scale(0.8571,1)" font-size="18" fill="#e4e4e4" >MA5:</text>
<text transform="translate(246.40,555) scale(1.0266,1)" font-size="18" fill="#e4e4e4" >77993768.00</text>
<text transform="translate(363.30,555) scale(0.8981,1)" font-size="18" fill="#e8e800" >MA10:</text>
<text transform="translate(417.30,555) scale(1.0395,1)" font-size="18" fill="#e8e800" >77113232.00</text>
<text transform="translate(3.00,731) scale(0.9837,1)" font-size="18" fill="#e4e4e4" >KDJ(9,3,3)</text>
<text transform="translate(97.60,731) scale(0.8471,1)" font-size="18" fill="#e4e4e4" >K:</text>
<text transform="translate(118.30,731) scale(0.9800,1)" font-size="18" fill="#e4e4e4" >62.53</text>
<text transform="translate(172.80,731) scale(0.8444,1)" font-size="18" fill="#e8e800" >D:</text>
<text transform="translate(195.50,731) scale(0.9800,1)" font-size="18" fill="#e8e800" >73.65</text>
<text transform="translate(248.00,731) scale(0.8929,1)" font-size="18" fill="#f000f0" >J:</text>
<text transform="translate(267.00,731) scale(0.9822,1)" font-size="18" fill="#f000f0" >40.30</text>
<rect x="189.7" y="890" width="1.6" height="8" fill="#8c0000"/>
<text x="193.0" y="908" font-size="18" fill="#b80000">12</text>
<rect x="325.8" y="890" width="1.6" height="8" fill="#8c0000"/>
<text x="329.1" y="908" font-size="18" fill="#b80000">1</text>
<rect x="477.9" y="890" width="1.6" height="8" fill="#8c0000"/>
<text x="481.2" y="908" font-size="18" fill="#b80000">2</text>
<rect x="580.8" y="890" width="1.6" height="8" fill="#8c0000"/>
<text x="584.1" y="908" font-size="18" fill="#b80000">3</text>
<rect x="725.0" y="890" width="1.6" height="8" fill="#8c0000"/>
<text x="728.3" y="908" font-size="18" fill="#b80000">4</text>
<rect x="869.6" y="890" width="1.6" height="8" fill="#8c0000"/>
<text x="872.9" y="908" font-size="18" fill="#b80000">5</text>
<rect x="1007.4" y="890" width="1.6" height="8" fill="#8c0000"/>
<text x="1010.7" y="908" font-size="18" fill="#b80000">6</text>
<rect x="1140.1" y="890" width="1.6" height="8" fill="#8c0000"/>
<text x="1143.4" y="908" font-size="18" fill="#b80000">7</text>
<rect x="224.0" y="890" width="1.6" height="3.2" fill="#8c0000"/>
<rect x="258.2" y="890" width="1.6" height="3.2" fill="#8c0000"/>
<rect x="291.7" y="890" width="1.6" height="3.2" fill="#8c0000"/>
<rect x="363.8" y="890" width="1.6" height="3.2" fill="#8c0000"/>
<rect x="402.8" y="890" width="1.6" height="3.2" fill="#8c0000"/>
<rect x="440.4" y="890" width="1.6" height="3.2" fill="#8c0000"/>
<rect x="502.5" y="890" width="1.6" height="3.2" fill="#8c0000"/>
<rect x="529.8" y="890" width="1.6" height="3.2" fill="#8c0000"/>
<rect x="555.8" y="890" width="1.6" height="3.2" fill="#8c0000"/>
<rect x="617.4" y="890" width="1.6" height="3.2" fill="#8c0000"/>
<rect x="653.1" y="890" width="1.6" height="3.2" fill="#8c0000"/>
<rect x="689.1" y="890" width="1.6" height="3.2" fill="#8c0000"/>
<rect x="760.7" y="890" width="1.6" height="3.2" fill="#8c0000"/>
<rect x="798.0" y="890" width="1.6" height="3.2" fill="#8c0000"/>
<rect x="834.0" y="890" width="1.6" height="3.2" fill="#8c0000"/>
<rect x="904.9" y="890" width="1.6" height="3.2" fill="#8c0000"/>
<rect x="940.6" y="890" width="1.6" height="3.2" fill="#8c0000"/>
<rect x="974.2" y="890" width="1.6" height="3.2" fill="#8c0000"/>
<rect x="1039.9" y="890" width="1.6" height="3.2" fill="#8c0000"/>
<rect x="1072.5" y="890" width="1.6" height="3.2" fill="#8c0000"/>
<rect x="1105.4" y="890" width="1.6" height="3.2" fill="#8c0000"/>
<rect x="1178.6" y="890" width="1.6" height="3.2" fill="#8c0000"/>
<rect x="1218.6" y="890" width="1.6" height="3.2" fill="#8c0000"/>
<rect x="1257.4" y="890" width="1.6" height="3.2" fill="#8c0000"/>
<rect x="1383.4" y="890" width="1.6" height="3.2" fill="#8c0000"/>
<text x="6" y="908" font-size="18" fill="#b80000">2018</text>
<text x="46" y="910" font-size="18.5" fill="#b80000" font-family="Liberation Sans, Noto Sans CJK SC, sans-serif">年</text>
<rect x="1268.2" y="889.8" width="115.2" height="9" fill="#0000f8"/>
<text x="1270" y="908" font-size="18" fill="#fff" textLength="93" lengthAdjust="spacingAndGlyphs">2018/08/28/</text>
<text x="1364" y="910" font-size="18.5" fill="#fff" font-family="Liberation Sans, Noto Sans CJK SC, sans-serif">二</text>
<rect x="1489.2" y="893.7" width="14" height="8" fill="none" stroke="#d0d0d0" stroke-width="1.8"/>
<path d="M2,441 L15.3,455 V507.5 L2,528 z" fill="#8c8c8c" fill-opacity="0.6"/>
<path d="M2,528 L15.3,507.5 V455" fill="none" stroke="#b0b0b0" stroke-opacity="0.6" stroke-width="1.2"/>
<path d="M3.6,479.5 L10.9,486.4 L3.6,493.2 z" fill="#d89000"/>
<rect x="0" y="0" width="1501" height="6.3" fill="#d2d2d2"/>
<rect x="0" y="6.2" width="1501" height="2.8" fill="url(#tg)"/>
<rect x="581" y="0" width="57" height="5" fill="#e2e2e2"/><rect x="648" y="0" width="57.5" height="5" fill="#e2e2e2"/>
<rect x="580.6" y="0" width="1.2" height="5.5" fill="#f8f8f8"/><rect x="637.4" y="0" width="1.2" height="5.5" fill="#f8f8f8"/><rect x="647.6" y="0" width="1.2" height="5.5" fill="#f8f8f8"/><rect x="705" y="0" width="1.2" height="5.5" fill="#f8f8f8"/>
<rect x="0" y="0" width="2.1" height="898" fill="#dadada"/>
</svg>
</body></html>
